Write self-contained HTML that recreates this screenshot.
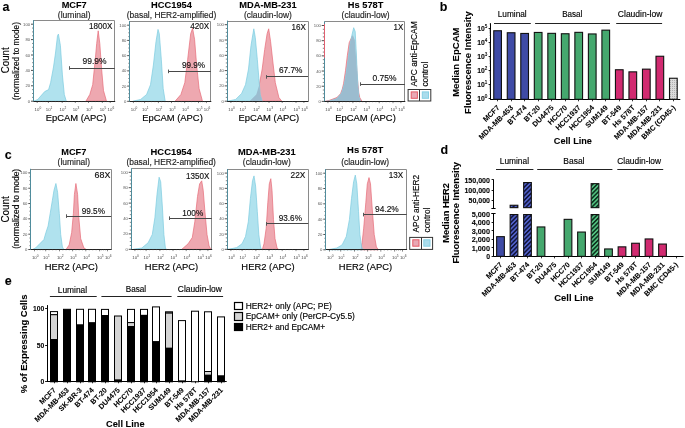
<!DOCTYPE html><html><head><meta charset="utf-8"><title>Figure</title><style>html,body{margin:0;padding:0;background:#fff;width:685px;height:428px;overflow:hidden}svg{display:block;will-change:transform}text{font-family:"Liberation Sans",sans-serif}</style></head><body>
<svg width="685" height="428" viewBox="0 0 685 428">
<defs><pattern id="hb" patternUnits="userSpaceOnUse" width="3.1" height="3.1" patternTransform="rotate(45)"><rect width="3.1" height="3.1" fill="#5060c8"/><rect width="1.5" height="3.1" fill="#10143c"/></pattern><pattern id="hg" patternUnits="userSpaceOnUse" width="3.1" height="3.1" patternTransform="rotate(45)"><rect width="3.1" height="3.1" fill="#52c080"/><rect width="1.5" height="3.1" fill="#0c301c"/></pattern><pattern id="dots" patternUnits="userSpaceOnUse" width="2" height="2"><rect width="2" height="2" fill="#dcdcdc"/><rect width="0.8" height="0.8" fill="#999"/></pattern></defs>
<text x="2.4" y="11.0" font-size="12.5" text-anchor="start" font-weight="bold" fill="#000" stroke="#000" stroke-width="0.08">a</text>
<text x="439.8" y="11.0" font-size="12.5" text-anchor="start" font-weight="bold" fill="#000" stroke="#000" stroke-width="0.08">b</text>
<text x="4.8" y="158.9" font-size="12.5" text-anchor="start" font-weight="bold" fill="#000" stroke="#000" stroke-width="0.08">c</text>
<text x="440.4" y="154.3" font-size="12.5" text-anchor="start" font-weight="bold" fill="#000" stroke="#000" stroke-width="0.08">d</text>
<text x="4.8" y="284.7" font-size="12.5" text-anchor="start" font-weight="bold" fill="#000" stroke="#000" stroke-width="0.08">e</text>
<line x1="31.00" y1="101.20" x2="33.50" y2="101.20" stroke="#222" stroke-width="0.8"/>
<text x="30.1" y="102.7" font-size="4.2" text-anchor="end" fill="#555">0</text>
<line x1="32.10" y1="97.35" x2="33.50" y2="97.35" stroke="#333" stroke-width="0.6"/>
<line x1="32.10" y1="93.50" x2="33.50" y2="93.50" stroke="#333" stroke-width="0.6"/>
<line x1="32.10" y1="89.65" x2="33.50" y2="89.65" stroke="#333" stroke-width="0.6"/>
<line x1="31.00" y1="85.80" x2="33.50" y2="85.80" stroke="#222" stroke-width="0.8"/>
<text x="30.1" y="87.3" font-size="4.2" text-anchor="end" fill="#555">20</text>
<line x1="32.10" y1="81.95" x2="33.50" y2="81.95" stroke="#333" stroke-width="0.6"/>
<line x1="32.10" y1="78.10" x2="33.50" y2="78.10" stroke="#333" stroke-width="0.6"/>
<line x1="32.10" y1="74.25" x2="33.50" y2="74.25" stroke="#333" stroke-width="0.6"/>
<line x1="31.00" y1="70.40" x2="33.50" y2="70.40" stroke="#222" stroke-width="0.8"/>
<text x="30.1" y="71.9" font-size="4.2" text-anchor="end" fill="#555">40</text>
<line x1="32.10" y1="66.55" x2="33.50" y2="66.55" stroke="#333" stroke-width="0.6"/>
<line x1="32.10" y1="62.70" x2="33.50" y2="62.70" stroke="#333" stroke-width="0.6"/>
<line x1="32.10" y1="58.85" x2="33.50" y2="58.85" stroke="#333" stroke-width="0.6"/>
<line x1="31.00" y1="55.00" x2="33.50" y2="55.00" stroke="#222" stroke-width="0.8"/>
<text x="30.1" y="56.5" font-size="4.2" text-anchor="end" fill="#555">60</text>
<line x1="32.10" y1="51.15" x2="33.50" y2="51.15" stroke="#333" stroke-width="0.6"/>
<line x1="32.10" y1="47.30" x2="33.50" y2="47.30" stroke="#333" stroke-width="0.6"/>
<line x1="32.10" y1="43.45" x2="33.50" y2="43.45" stroke="#333" stroke-width="0.6"/>
<line x1="31.00" y1="39.60" x2="33.50" y2="39.60" stroke="#222" stroke-width="0.8"/>
<text x="30.1" y="41.1" font-size="4.2" text-anchor="end" fill="#555">80</text>
<line x1="32.10" y1="35.75" x2="33.50" y2="35.75" stroke="#333" stroke-width="0.6"/>
<line x1="32.10" y1="31.90" x2="33.50" y2="31.90" stroke="#333" stroke-width="0.6"/>
<line x1="32.10" y1="28.05" x2="33.50" y2="28.05" stroke="#333" stroke-width="0.6"/>
<line x1="31.00" y1="24.20" x2="33.50" y2="24.20" stroke="#222" stroke-width="0.8"/>
<text x="30.1" y="25.7" font-size="4.2" text-anchor="end" fill="#555">100</text>
<clipPath id="c1"><polygon points="85.9,101.2 89.8,94.5 92.7,84.7 95.3,59.2 96.7,43.5 98.2,30.8 99.8,43.5 101.6,69.0 103.5,90.6 106.5,101.2"/></clipPath>
<polygon points="85.9,101.2 89.8,94.5 92.7,84.7 95.3,59.2 96.7,43.5 98.2,30.8 99.8,43.5 101.6,69.0 103.5,90.6 106.5,101.2" fill="#eea8b0" stroke="#e66c78" stroke-width="0.7" stroke-linejoin="round"/>
<polygon points="33.9,101.2 37.8,99.4 44.7,91.6 48.6,89.6 50.6,82.7 53.5,67.0 55.5,53.0 57.5,35.7 58.4,34.1 60.4,45.5 62.4,74.9 64.3,94.5 66.3,101.2" fill="#b0e2ee" stroke="#7ccbe0" stroke-width="0.7" stroke-linejoin="round"/>
<polygon points="33.9,101.2 37.8,99.4 44.7,91.6 48.6,89.6 50.6,82.7 53.5,67.0 55.5,53.0 57.5,35.7 58.4,34.1 60.4,45.5 62.4,74.9 64.3,94.5 66.3,101.2" fill="#9bbccf" stroke="none" stroke-width="0" stroke-linejoin="round" clip-path="url(#c1)"/>
<path d="M33.5,20.5 H114.5 V101.5" fill="none" stroke="#8a8a8a" stroke-width="1"/>
<line x1="33.30" y1="101.50" x2="115.20" y2="101.50" stroke="#222" stroke-width="1.0"/>
<line x1="33.50" y1="20.10" x2="33.50" y2="101.20" stroke="#4f8c9c" stroke-width="1.0"/>
<line x1="37.20" y1="101.20" x2="37.20" y2="103.00" stroke="#333" stroke-width="0.6"/>
<line x1="48.40" y1="101.20" x2="48.40" y2="103.00" stroke="#333" stroke-width="0.6"/>
<line x1="62.20" y1="101.20" x2="62.20" y2="103.00" stroke="#333" stroke-width="0.6"/>
<line x1="75.30" y1="101.20" x2="75.30" y2="103.00" stroke="#333" stroke-width="0.6"/>
<line x1="88.50" y1="101.20" x2="88.50" y2="103.00" stroke="#333" stroke-width="0.6"/>
<line x1="102.30" y1="101.20" x2="102.30" y2="103.00" stroke="#333" stroke-width="0.6"/>
<line x1="110.20" y1="101.20" x2="110.20" y2="103.00" stroke="#333" stroke-width="0.6"/>
<line x1="40.00" y1="101.20" x2="40.00" y2="102.20" stroke="#555" stroke-width="0.4"/>
<line x1="42.80" y1="101.20" x2="42.80" y2="102.20" stroke="#555" stroke-width="0.4"/>
<line x1="45.60" y1="101.20" x2="45.60" y2="102.20" stroke="#555" stroke-width="0.4"/>
<line x1="51.85" y1="101.20" x2="51.85" y2="102.20" stroke="#555" stroke-width="0.4"/>
<line x1="55.30" y1="101.20" x2="55.30" y2="102.20" stroke="#555" stroke-width="0.4"/>
<line x1="58.75" y1="101.20" x2="58.75" y2="102.20" stroke="#555" stroke-width="0.4"/>
<line x1="65.48" y1="101.20" x2="65.48" y2="102.20" stroke="#555" stroke-width="0.4"/>
<line x1="68.75" y1="101.20" x2="68.75" y2="102.20" stroke="#555" stroke-width="0.4"/>
<line x1="72.03" y1="101.20" x2="72.03" y2="102.20" stroke="#555" stroke-width="0.4"/>
<line x1="78.60" y1="101.20" x2="78.60" y2="102.20" stroke="#555" stroke-width="0.4"/>
<line x1="81.90" y1="101.20" x2="81.90" y2="102.20" stroke="#555" stroke-width="0.4"/>
<line x1="85.20" y1="101.20" x2="85.20" y2="102.20" stroke="#555" stroke-width="0.4"/>
<line x1="91.95" y1="101.20" x2="91.95" y2="102.20" stroke="#555" stroke-width="0.4"/>
<line x1="95.40" y1="101.20" x2="95.40" y2="102.20" stroke="#555" stroke-width="0.4"/>
<line x1="98.85" y1="101.20" x2="98.85" y2="102.20" stroke="#555" stroke-width="0.4"/>
<line x1="104.28" y1="101.20" x2="104.28" y2="102.20" stroke="#555" stroke-width="0.4"/>
<line x1="106.25" y1="101.20" x2="106.25" y2="102.20" stroke="#555" stroke-width="0.4"/>
<line x1="108.22" y1="101.20" x2="108.22" y2="102.20" stroke="#555" stroke-width="0.4"/>
<text x="37.9" y="110.6" font-size="4.3" text-anchor="middle" fill="#444">10<tspan dy="-1.8" font-size="3.2">0</tspan></text>
<text x="49.1" y="110.6" font-size="4.3" text-anchor="middle" fill="#444">10<tspan dy="-1.8" font-size="3.2">1</tspan></text>
<text x="62.9" y="110.6" font-size="4.3" text-anchor="middle" fill="#444">10<tspan dy="-1.8" font-size="3.2">2</tspan></text>
<text x="76.0" y="110.6" font-size="4.3" text-anchor="middle" fill="#444">10<tspan dy="-1.8" font-size="3.2">3</tspan></text>
<text x="89.2" y="110.6" font-size="4.3" text-anchor="middle" fill="#444">10<tspan dy="-1.8" font-size="3.2">4</tspan></text>
<text x="103.0" y="110.6" font-size="4.3" text-anchor="middle" fill="#444">10<tspan dy="-1.8" font-size="3.2">5</tspan></text>
<text x="110.9" y="110.6" font-size="4.3" text-anchor="middle" fill="#444">10<tspan dy="-1.8" font-size="3.2">6</tspan></text>
<line x1="69.20" y1="68.50" x2="114.80" y2="68.50" stroke="#484848" stroke-width="1.0"/>
<line x1="69.50" y1="66.20" x2="69.50" y2="69.80" stroke="#555" stroke-width="1.0"/>
<text x="82.5" y="63.6" font-size="8.7" text-anchor="start" fill="#111" stroke="#111" stroke-width="0.15" textLength="24.0" lengthAdjust="spacingAndGlyphs">99.9%</text>
<text x="89.0" y="29.3" font-size="8.5" text-anchor="start" fill="#111" stroke="#111" stroke-width="0.15" textLength="23.4" lengthAdjust="spacingAndGlyphs">1800X</text>
<line x1="127.20" y1="101.30" x2="129.70" y2="101.30" stroke="#222" stroke-width="0.8"/>
<text x="126.3" y="102.8" font-size="4.2" text-anchor="end" fill="#555">0</text>
<line x1="128.30" y1="97.50" x2="129.70" y2="97.50" stroke="#333" stroke-width="0.6"/>
<line x1="128.30" y1="93.69" x2="129.70" y2="93.69" stroke="#333" stroke-width="0.6"/>
<line x1="128.30" y1="89.88" x2="129.70" y2="89.88" stroke="#333" stroke-width="0.6"/>
<line x1="127.20" y1="86.08" x2="129.70" y2="86.08" stroke="#222" stroke-width="0.8"/>
<text x="126.3" y="87.6" font-size="4.2" text-anchor="end" fill="#555">20</text>
<line x1="128.30" y1="82.28" x2="129.70" y2="82.28" stroke="#333" stroke-width="0.6"/>
<line x1="128.30" y1="78.47" x2="129.70" y2="78.47" stroke="#333" stroke-width="0.6"/>
<line x1="128.30" y1="74.66" x2="129.70" y2="74.66" stroke="#333" stroke-width="0.6"/>
<line x1="127.20" y1="70.86" x2="129.70" y2="70.86" stroke="#222" stroke-width="0.8"/>
<text x="126.3" y="72.4" font-size="4.2" text-anchor="end" fill="#555">40</text>
<line x1="128.30" y1="67.06" x2="129.70" y2="67.06" stroke="#333" stroke-width="0.6"/>
<line x1="128.30" y1="63.25" x2="129.70" y2="63.25" stroke="#333" stroke-width="0.6"/>
<line x1="128.30" y1="59.45" x2="129.70" y2="59.45" stroke="#333" stroke-width="0.6"/>
<line x1="127.20" y1="55.64" x2="129.70" y2="55.64" stroke="#222" stroke-width="0.8"/>
<text x="126.3" y="57.1" font-size="4.2" text-anchor="end" fill="#555">60</text>
<line x1="128.30" y1="51.84" x2="129.70" y2="51.84" stroke="#333" stroke-width="0.6"/>
<line x1="128.30" y1="48.03" x2="129.70" y2="48.03" stroke="#333" stroke-width="0.6"/>
<line x1="128.30" y1="44.23" x2="129.70" y2="44.23" stroke="#333" stroke-width="0.6"/>
<line x1="127.20" y1="40.42" x2="129.70" y2="40.42" stroke="#222" stroke-width="0.8"/>
<text x="126.3" y="41.9" font-size="4.2" text-anchor="end" fill="#555">80</text>
<line x1="128.30" y1="36.62" x2="129.70" y2="36.62" stroke="#333" stroke-width="0.6"/>
<line x1="128.30" y1="32.81" x2="129.70" y2="32.81" stroke="#333" stroke-width="0.6"/>
<line x1="128.30" y1="29.01" x2="129.70" y2="29.01" stroke="#333" stroke-width="0.6"/>
<line x1="127.20" y1="25.20" x2="129.70" y2="25.20" stroke="#222" stroke-width="0.8"/>
<text x="126.3" y="26.7" font-size="4.2" text-anchor="end" fill="#555">100</text>
<clipPath id="c2"><polygon points="175.0,101.3 180.9,94.5 184.8,82.7 187.7,59.2 190.7,33.7 192.6,28.2 194.6,39.6 196.6,65.0 199.1,88.6 202.5,101.3"/></clipPath>
<polygon points="175.0,101.3 180.9,94.5 184.8,82.7 187.7,59.2 190.7,33.7 192.6,28.2 194.6,39.6 196.6,65.0 199.1,88.6 202.5,101.3" fill="#eea8b0" stroke="#e66c78" stroke-width="0.7" stroke-linejoin="round"/>
<polygon points="132.8,101.3 140.7,99.4 146.6,94.5 150.5,84.7 153.4,65.0 156.0,41.6 158.0,29.4 159.3,33.7 161.3,59.2 163.2,88.6 165.2,101.3" fill="#b0e2ee" stroke="#7ccbe0" stroke-width="0.7" stroke-linejoin="round"/>
<polygon points="132.8,101.3 140.7,99.4 146.6,94.5 150.5,84.7 153.4,65.0 156.0,41.6 158.0,29.4 159.3,33.7 161.3,59.2 163.2,88.6 165.2,101.3" fill="#9bbccf" stroke="none" stroke-width="0" stroke-linejoin="round" clip-path="url(#c2)"/>
<path d="M129.5,21.5 H210.5 V101.5" fill="none" stroke="#8a8a8a" stroke-width="1"/>
<line x1="129.50" y1="101.50" x2="211.30" y2="101.50" stroke="#222" stroke-width="1.0"/>
<line x1="129.50" y1="21.10" x2="129.50" y2="101.30" stroke="#4f8c9c" stroke-width="1.0"/>
<line x1="133.40" y1="101.30" x2="133.40" y2="103.10" stroke="#333" stroke-width="0.6"/>
<line x1="144.60" y1="101.30" x2="144.60" y2="103.10" stroke="#333" stroke-width="0.6"/>
<line x1="158.40" y1="101.30" x2="158.40" y2="103.10" stroke="#333" stroke-width="0.6"/>
<line x1="171.50" y1="101.30" x2="171.50" y2="103.10" stroke="#333" stroke-width="0.6"/>
<line x1="184.70" y1="101.30" x2="184.70" y2="103.10" stroke="#333" stroke-width="0.6"/>
<line x1="198.50" y1="101.30" x2="198.50" y2="103.10" stroke="#333" stroke-width="0.6"/>
<line x1="206.40" y1="101.30" x2="206.40" y2="103.10" stroke="#333" stroke-width="0.6"/>
<line x1="136.20" y1="101.30" x2="136.20" y2="102.30" stroke="#555" stroke-width="0.4"/>
<line x1="139.00" y1="101.30" x2="139.00" y2="102.30" stroke="#555" stroke-width="0.4"/>
<line x1="141.80" y1="101.30" x2="141.80" y2="102.30" stroke="#555" stroke-width="0.4"/>
<line x1="148.05" y1="101.30" x2="148.05" y2="102.30" stroke="#555" stroke-width="0.4"/>
<line x1="151.50" y1="101.30" x2="151.50" y2="102.30" stroke="#555" stroke-width="0.4"/>
<line x1="154.95" y1="101.30" x2="154.95" y2="102.30" stroke="#555" stroke-width="0.4"/>
<line x1="161.67" y1="101.30" x2="161.67" y2="102.30" stroke="#555" stroke-width="0.4"/>
<line x1="164.95" y1="101.30" x2="164.95" y2="102.30" stroke="#555" stroke-width="0.4"/>
<line x1="168.22" y1="101.30" x2="168.22" y2="102.30" stroke="#555" stroke-width="0.4"/>
<line x1="174.80" y1="101.30" x2="174.80" y2="102.30" stroke="#555" stroke-width="0.4"/>
<line x1="178.10" y1="101.30" x2="178.10" y2="102.30" stroke="#555" stroke-width="0.4"/>
<line x1="181.40" y1="101.30" x2="181.40" y2="102.30" stroke="#555" stroke-width="0.4"/>
<line x1="188.15" y1="101.30" x2="188.15" y2="102.30" stroke="#555" stroke-width="0.4"/>
<line x1="191.60" y1="101.30" x2="191.60" y2="102.30" stroke="#555" stroke-width="0.4"/>
<line x1="195.05" y1="101.30" x2="195.05" y2="102.30" stroke="#555" stroke-width="0.4"/>
<line x1="200.47" y1="101.30" x2="200.47" y2="102.30" stroke="#555" stroke-width="0.4"/>
<line x1="202.45" y1="101.30" x2="202.45" y2="102.30" stroke="#555" stroke-width="0.4"/>
<line x1="204.43" y1="101.30" x2="204.43" y2="102.30" stroke="#555" stroke-width="0.4"/>
<text x="134.1" y="110.7" font-size="4.3" text-anchor="middle" fill="#444">10<tspan dy="-1.8" font-size="3.2">0</tspan></text>
<text x="145.3" y="110.7" font-size="4.3" text-anchor="middle" fill="#444">10<tspan dy="-1.8" font-size="3.2">1</tspan></text>
<text x="159.1" y="110.7" font-size="4.3" text-anchor="middle" fill="#444">10<tspan dy="-1.8" font-size="3.2">2</tspan></text>
<text x="172.2" y="110.7" font-size="4.3" text-anchor="middle" fill="#444">10<tspan dy="-1.8" font-size="3.2">3</tspan></text>
<text x="185.4" y="110.7" font-size="4.3" text-anchor="middle" fill="#444">10<tspan dy="-1.8" font-size="3.2">4</tspan></text>
<text x="199.2" y="110.7" font-size="4.3" text-anchor="middle" fill="#444">10<tspan dy="-1.8" font-size="3.2">5</tspan></text>
<text x="207.1" y="110.7" font-size="4.3" text-anchor="middle" fill="#444">10<tspan dy="-1.8" font-size="3.2">6</tspan></text>
<line x1="168.50" y1="71.50" x2="210.90" y2="71.50" stroke="#484848" stroke-width="1.0"/>
<line x1="168.50" y1="69.60" x2="168.50" y2="73.20" stroke="#555" stroke-width="1.0"/>
<text x="181.9" y="67.6" font-size="8.7" text-anchor="start" fill="#111" stroke="#111" stroke-width="0.15" textLength="23.1" lengthAdjust="spacingAndGlyphs">99.9%</text>
<text x="190.3" y="29.4" font-size="8.5" text-anchor="start" fill="#111" stroke="#111" stroke-width="0.15" textLength="19.0" lengthAdjust="spacingAndGlyphs">420X</text>
<line x1="224.70" y1="101.20" x2="227.20" y2="101.20" stroke="#222" stroke-width="0.8"/>
<text x="223.8" y="102.7" font-size="4.2" text-anchor="end" fill="#555">0</text>
<line x1="225.80" y1="97.38" x2="227.20" y2="97.38" stroke="#333" stroke-width="0.6"/>
<line x1="225.80" y1="93.55" x2="227.20" y2="93.55" stroke="#333" stroke-width="0.6"/>
<line x1="225.80" y1="89.73" x2="227.20" y2="89.73" stroke="#333" stroke-width="0.6"/>
<line x1="224.70" y1="85.90" x2="227.20" y2="85.90" stroke="#222" stroke-width="0.8"/>
<text x="223.8" y="87.4" font-size="4.2" text-anchor="end" fill="#555">20</text>
<line x1="225.80" y1="82.08" x2="227.20" y2="82.08" stroke="#333" stroke-width="0.6"/>
<line x1="225.80" y1="78.25" x2="227.20" y2="78.25" stroke="#333" stroke-width="0.6"/>
<line x1="225.80" y1="74.42" x2="227.20" y2="74.42" stroke="#333" stroke-width="0.6"/>
<line x1="224.70" y1="70.60" x2="227.20" y2="70.60" stroke="#222" stroke-width="0.8"/>
<text x="223.8" y="72.1" font-size="4.2" text-anchor="end" fill="#555">40</text>
<line x1="225.80" y1="66.78" x2="227.20" y2="66.78" stroke="#333" stroke-width="0.6"/>
<line x1="225.80" y1="62.95" x2="227.20" y2="62.95" stroke="#333" stroke-width="0.6"/>
<line x1="225.80" y1="59.12" x2="227.20" y2="59.12" stroke="#333" stroke-width="0.6"/>
<line x1="224.70" y1="55.30" x2="227.20" y2="55.30" stroke="#222" stroke-width="0.8"/>
<text x="223.8" y="56.8" font-size="4.2" text-anchor="end" fill="#555">60</text>
<line x1="225.80" y1="51.48" x2="227.20" y2="51.48" stroke="#333" stroke-width="0.6"/>
<line x1="225.80" y1="47.65" x2="227.20" y2="47.65" stroke="#333" stroke-width="0.6"/>
<line x1="225.80" y1="43.83" x2="227.20" y2="43.83" stroke="#333" stroke-width="0.6"/>
<line x1="224.70" y1="40.00" x2="227.20" y2="40.00" stroke="#222" stroke-width="0.8"/>
<text x="223.8" y="41.5" font-size="4.2" text-anchor="end" fill="#555">80</text>
<line x1="225.80" y1="36.17" x2="227.20" y2="36.17" stroke="#333" stroke-width="0.6"/>
<line x1="225.80" y1="32.35" x2="227.20" y2="32.35" stroke="#333" stroke-width="0.6"/>
<line x1="225.80" y1="28.53" x2="227.20" y2="28.53" stroke="#333" stroke-width="0.6"/>
<line x1="224.70" y1="24.70" x2="227.20" y2="24.70" stroke="#222" stroke-width="0.8"/>
<text x="223.8" y="26.2" font-size="4.2" text-anchor="end" fill="#555">100</text>
<clipPath id="c3"><polygon points="249.5,101.2 256.3,94.5 259.3,84.7 262.2,69.0 264.7,49.4 267.1,33.7 268.7,28.8 270.6,41.6 273.0,63.1 275.3,82.7 278.9,97.5 281.8,101.2"/></clipPath>
<polygon points="249.5,101.2 256.3,94.5 259.3,84.7 262.2,69.0 264.7,49.4 267.1,33.7 268.7,28.8 270.6,41.6 273.0,63.1 275.3,82.7 278.9,97.5 281.8,101.2" fill="#eea8b0" stroke="#e66c78" stroke-width="0.7" stroke-linejoin="round"/>
<polygon points="227.9,101.2 235.7,99.4 241.6,93.5 245.5,84.7 248.5,69.0 251.0,45.5 253.8,28.8 255.3,37.6 257.3,59.2 258.9,78.8 260.2,94.5 262.2,101.2" fill="#b0e2ee" stroke="#7ccbe0" stroke-width="0.7" stroke-linejoin="round"/>
<polygon points="227.9,101.2 235.7,99.4 241.6,93.5 245.5,84.7 248.5,69.0 251.0,45.5 253.8,28.8 255.3,37.6 257.3,59.2 258.9,78.8 260.2,94.5 262.2,101.2" fill="#9bbccf" stroke="none" stroke-width="0" stroke-linejoin="round" clip-path="url(#c3)"/>
<path d="M227.5,21.5 H308.5 V101.5" fill="none" stroke="#8a8a8a" stroke-width="1"/>
<line x1="227.00" y1="101.50" x2="308.40" y2="101.50" stroke="#222" stroke-width="1.0"/>
<line x1="227.50" y1="20.60" x2="227.50" y2="101.20" stroke="#4f8c9c" stroke-width="1.0"/>
<line x1="230.90" y1="101.20" x2="230.90" y2="103.00" stroke="#333" stroke-width="0.6"/>
<line x1="242.10" y1="101.20" x2="242.10" y2="103.00" stroke="#333" stroke-width="0.6"/>
<line x1="255.90" y1="101.20" x2="255.90" y2="103.00" stroke="#333" stroke-width="0.6"/>
<line x1="269.00" y1="101.20" x2="269.00" y2="103.00" stroke="#333" stroke-width="0.6"/>
<line x1="282.20" y1="101.20" x2="282.20" y2="103.00" stroke="#333" stroke-width="0.6"/>
<line x1="296.00" y1="101.20" x2="296.00" y2="103.00" stroke="#333" stroke-width="0.6"/>
<line x1="303.90" y1="101.20" x2="303.90" y2="103.00" stroke="#333" stroke-width="0.6"/>
<line x1="233.70" y1="101.20" x2="233.70" y2="102.20" stroke="#555" stroke-width="0.4"/>
<line x1="236.50" y1="101.20" x2="236.50" y2="102.20" stroke="#555" stroke-width="0.4"/>
<line x1="239.30" y1="101.20" x2="239.30" y2="102.20" stroke="#555" stroke-width="0.4"/>
<line x1="245.55" y1="101.20" x2="245.55" y2="102.20" stroke="#555" stroke-width="0.4"/>
<line x1="249.00" y1="101.20" x2="249.00" y2="102.20" stroke="#555" stroke-width="0.4"/>
<line x1="252.45" y1="101.20" x2="252.45" y2="102.20" stroke="#555" stroke-width="0.4"/>
<line x1="259.17" y1="101.20" x2="259.17" y2="102.20" stroke="#555" stroke-width="0.4"/>
<line x1="262.45" y1="101.20" x2="262.45" y2="102.20" stroke="#555" stroke-width="0.4"/>
<line x1="265.72" y1="101.20" x2="265.72" y2="102.20" stroke="#555" stroke-width="0.4"/>
<line x1="272.30" y1="101.20" x2="272.30" y2="102.20" stroke="#555" stroke-width="0.4"/>
<line x1="275.60" y1="101.20" x2="275.60" y2="102.20" stroke="#555" stroke-width="0.4"/>
<line x1="278.90" y1="101.20" x2="278.90" y2="102.20" stroke="#555" stroke-width="0.4"/>
<line x1="285.65" y1="101.20" x2="285.65" y2="102.20" stroke="#555" stroke-width="0.4"/>
<line x1="289.10" y1="101.20" x2="289.10" y2="102.20" stroke="#555" stroke-width="0.4"/>
<line x1="292.55" y1="101.20" x2="292.55" y2="102.20" stroke="#555" stroke-width="0.4"/>
<line x1="297.98" y1="101.20" x2="297.98" y2="102.20" stroke="#555" stroke-width="0.4"/>
<line x1="299.95" y1="101.20" x2="299.95" y2="102.20" stroke="#555" stroke-width="0.4"/>
<line x1="301.93" y1="101.20" x2="301.93" y2="102.20" stroke="#555" stroke-width="0.4"/>
<text x="231.6" y="110.6" font-size="4.3" text-anchor="middle" fill="#444">10<tspan dy="-1.8" font-size="3.2">0</tspan></text>
<text x="242.8" y="110.6" font-size="4.3" text-anchor="middle" fill="#444">10<tspan dy="-1.8" font-size="3.2">1</tspan></text>
<text x="256.6" y="110.6" font-size="4.3" text-anchor="middle" fill="#444">10<tspan dy="-1.8" font-size="3.2">2</tspan></text>
<text x="269.7" y="110.6" font-size="4.3" text-anchor="middle" fill="#444">10<tspan dy="-1.8" font-size="3.2">3</tspan></text>
<text x="282.9" y="110.6" font-size="4.3" text-anchor="middle" fill="#444">10<tspan dy="-1.8" font-size="3.2">4</tspan></text>
<text x="296.7" y="110.6" font-size="4.3" text-anchor="middle" fill="#444">10<tspan dy="-1.8" font-size="3.2">5</tspan></text>
<text x="304.6" y="110.6" font-size="4.3" text-anchor="middle" fill="#444">10<tspan dy="-1.8" font-size="3.2">6</tspan></text>
<line x1="266.10" y1="76.50" x2="308.00" y2="76.50" stroke="#484848" stroke-width="1.0"/>
<line x1="266.50" y1="75.10" x2="266.50" y2="78.70" stroke="#555" stroke-width="1.0"/>
<text x="278.9" y="73.3" font-size="8.7" text-anchor="start" fill="#111" stroke="#111" stroke-width="0.15" textLength="23.5" lengthAdjust="spacingAndGlyphs">67.7%</text>
<text x="291.6" y="29.8" font-size="8.5" text-anchor="start" fill="#111" stroke="#111" stroke-width="0.15" textLength="14.3" lengthAdjust="spacingAndGlyphs">16X</text>
<line x1="321.70" y1="101.40" x2="324.20" y2="101.40" stroke="#222" stroke-width="0.8"/>
<text x="320.8" y="102.9" font-size="4.2" text-anchor="end" fill="#555">0</text>
<line x1="322.80" y1="97.61" x2="324.20" y2="97.61" stroke="#333" stroke-width="0.6"/>
<line x1="322.80" y1="93.81" x2="324.20" y2="93.81" stroke="#333" stroke-width="0.6"/>
<line x1="322.80" y1="90.02" x2="324.20" y2="90.02" stroke="#333" stroke-width="0.6"/>
<line x1="321.70" y1="86.22" x2="324.20" y2="86.22" stroke="#222" stroke-width="0.8"/>
<text x="320.8" y="87.7" font-size="4.2" text-anchor="end" fill="#555">20</text>
<line x1="322.80" y1="82.43" x2="324.20" y2="82.43" stroke="#333" stroke-width="0.6"/>
<line x1="322.80" y1="78.63" x2="324.20" y2="78.63" stroke="#333" stroke-width="0.6"/>
<line x1="322.80" y1="74.84" x2="324.20" y2="74.84" stroke="#333" stroke-width="0.6"/>
<line x1="321.70" y1="71.04" x2="324.20" y2="71.04" stroke="#222" stroke-width="0.8"/>
<text x="320.8" y="72.5" font-size="4.2" text-anchor="end" fill="#555">40</text>
<line x1="322.80" y1="67.25" x2="324.20" y2="67.25" stroke="#333" stroke-width="0.6"/>
<line x1="322.80" y1="63.45" x2="324.20" y2="63.45" stroke="#333" stroke-width="0.6"/>
<line x1="322.80" y1="59.66" x2="324.20" y2="59.66" stroke="#333" stroke-width="0.6"/>
<line x1="321.70" y1="55.86" x2="324.20" y2="55.86" stroke="#222" stroke-width="0.8"/>
<text x="320.8" y="57.4" font-size="4.2" text-anchor="end" fill="#555">60</text>
<line x1="322.80" y1="52.07" x2="324.20" y2="52.07" stroke="#333" stroke-width="0.6"/>
<line x1="322.80" y1="48.27" x2="324.20" y2="48.27" stroke="#333" stroke-width="0.6"/>
<line x1="322.80" y1="44.48" x2="324.20" y2="44.48" stroke="#333" stroke-width="0.6"/>
<line x1="321.70" y1="40.68" x2="324.20" y2="40.68" stroke="#222" stroke-width="0.8"/>
<text x="320.8" y="42.2" font-size="4.2" text-anchor="end" fill="#555">80</text>
<line x1="322.80" y1="36.89" x2="324.20" y2="36.89" stroke="#333" stroke-width="0.6"/>
<line x1="322.80" y1="33.09" x2="324.20" y2="33.09" stroke="#333" stroke-width="0.6"/>
<line x1="322.80" y1="29.30" x2="324.20" y2="29.30" stroke="#333" stroke-width="0.6"/>
<line x1="321.70" y1="25.50" x2="324.20" y2="25.50" stroke="#222" stroke-width="0.8"/>
<text x="320.8" y="27.0" font-size="4.2" text-anchor="end" fill="#555">100</text>
<clipPath id="c4"><polygon points="325.0,101.4 329.5,100.3 336.9,97.5 340.5,93.8 342.3,89.0 343.6,83.5 345.5,70.6 347.3,55.7 349.2,42.7 352.8,35.0 354.8,40.0 356.2,60.0 357.5,80.0 358.8,93.0 359.8,97.7 362.1,101.4"/></clipPath>
<polygon points="325.0,101.4 329.5,100.3 336.9,97.5 340.5,93.8 342.3,89.0 343.6,83.5 345.5,70.6 347.3,55.7 349.2,42.7 352.8,35.0 354.8,40.0 356.2,60.0 357.5,80.0 358.8,93.0 359.8,97.7 362.1,101.4" fill="#eea8b0" stroke="#e66c78" stroke-width="0.7" stroke-linejoin="round"/>
<polygon points="325.8,101.4 329.5,100.9 336.9,98.6 341.6,93.0 344.4,83.7 346.3,72.5 348.1,59.4 350.0,44.5 351.9,35.2 353.7,27.7 355.2,31.5 356.1,48.3 357.1,70.6 358.0,87.4 358.9,96.8 360.2,100.5 361.0,101.4" fill="#b0e2ee" stroke="#7ccbe0" stroke-width="0.7" stroke-linejoin="round"/>
<polygon points="325.8,101.4 329.5,100.9 336.9,98.6 341.6,93.0 344.4,83.7 346.3,72.5 348.1,59.4 350.0,44.5 351.9,35.2 353.7,27.7 355.2,31.5 356.1,48.3 357.1,70.6 358.0,87.4 358.9,96.8 360.2,100.5 361.0,101.4" fill="#9bbccf" stroke="none" stroke-width="0" stroke-linejoin="round" clip-path="url(#c4)"/>
<path d="M324.5,21.5 H404.5 V101.5" fill="none" stroke="#8a8a8a" stroke-width="1"/>
<line x1="324.00" y1="101.50" x2="405.30" y2="101.50" stroke="#222" stroke-width="1.0"/>
<line x1="324.50" y1="21.40" x2="324.50" y2="101.40" stroke="#4f8c9c" stroke-width="1.0"/>
<line x1="324.50" y1="24.00" x2="324.50" y2="57.70" stroke="#e06070" stroke-width="1.0"/>
<line x1="327.90" y1="101.40" x2="327.90" y2="103.20" stroke="#333" stroke-width="0.6"/>
<line x1="339.10" y1="101.40" x2="339.10" y2="103.20" stroke="#333" stroke-width="0.6"/>
<line x1="352.90" y1="101.40" x2="352.90" y2="103.20" stroke="#333" stroke-width="0.6"/>
<line x1="366.00" y1="101.40" x2="366.00" y2="103.20" stroke="#333" stroke-width="0.6"/>
<line x1="379.20" y1="101.40" x2="379.20" y2="103.20" stroke="#333" stroke-width="0.6"/>
<line x1="393.00" y1="101.40" x2="393.00" y2="103.20" stroke="#333" stroke-width="0.6"/>
<line x1="400.90" y1="101.40" x2="400.90" y2="103.20" stroke="#333" stroke-width="0.6"/>
<line x1="330.70" y1="101.40" x2="330.70" y2="102.40" stroke="#555" stroke-width="0.4"/>
<line x1="333.50" y1="101.40" x2="333.50" y2="102.40" stroke="#555" stroke-width="0.4"/>
<line x1="336.30" y1="101.40" x2="336.30" y2="102.40" stroke="#555" stroke-width="0.4"/>
<line x1="342.55" y1="101.40" x2="342.55" y2="102.40" stroke="#555" stroke-width="0.4"/>
<line x1="346.00" y1="101.40" x2="346.00" y2="102.40" stroke="#555" stroke-width="0.4"/>
<line x1="349.45" y1="101.40" x2="349.45" y2="102.40" stroke="#555" stroke-width="0.4"/>
<line x1="356.17" y1="101.40" x2="356.17" y2="102.40" stroke="#555" stroke-width="0.4"/>
<line x1="359.45" y1="101.40" x2="359.45" y2="102.40" stroke="#555" stroke-width="0.4"/>
<line x1="362.72" y1="101.40" x2="362.72" y2="102.40" stroke="#555" stroke-width="0.4"/>
<line x1="369.30" y1="101.40" x2="369.30" y2="102.40" stroke="#555" stroke-width="0.4"/>
<line x1="372.60" y1="101.40" x2="372.60" y2="102.40" stroke="#555" stroke-width="0.4"/>
<line x1="375.90" y1="101.40" x2="375.90" y2="102.40" stroke="#555" stroke-width="0.4"/>
<line x1="382.65" y1="101.40" x2="382.65" y2="102.40" stroke="#555" stroke-width="0.4"/>
<line x1="386.10" y1="101.40" x2="386.10" y2="102.40" stroke="#555" stroke-width="0.4"/>
<line x1="389.55" y1="101.40" x2="389.55" y2="102.40" stroke="#555" stroke-width="0.4"/>
<line x1="394.98" y1="101.40" x2="394.98" y2="102.40" stroke="#555" stroke-width="0.4"/>
<line x1="396.95" y1="101.40" x2="396.95" y2="102.40" stroke="#555" stroke-width="0.4"/>
<line x1="398.93" y1="101.40" x2="398.93" y2="102.40" stroke="#555" stroke-width="0.4"/>
<text x="328.6" y="110.8" font-size="4.3" text-anchor="middle" fill="#444">10<tspan dy="-1.8" font-size="3.2">0</tspan></text>
<text x="339.8" y="110.8" font-size="4.3" text-anchor="middle" fill="#444">10<tspan dy="-1.8" font-size="3.2">1</tspan></text>
<text x="353.6" y="110.8" font-size="4.3" text-anchor="middle" fill="#444">10<tspan dy="-1.8" font-size="3.2">2</tspan></text>
<text x="366.7" y="110.8" font-size="4.3" text-anchor="middle" fill="#444">10<tspan dy="-1.8" font-size="3.2">3</tspan></text>
<text x="379.9" y="110.8" font-size="4.3" text-anchor="middle" fill="#444">10<tspan dy="-1.8" font-size="3.2">4</tspan></text>
<text x="393.7" y="110.8" font-size="4.3" text-anchor="middle" fill="#444">10<tspan dy="-1.8" font-size="3.2">5</tspan></text>
<text x="401.6" y="110.8" font-size="4.3" text-anchor="middle" fill="#444">10<tspan dy="-1.8" font-size="3.2">6</tspan></text>
<line x1="360.20" y1="84.50" x2="404.90" y2="84.50" stroke="#484848" stroke-width="1.0"/>
<line x1="360.50" y1="82.30" x2="360.50" y2="85.90" stroke="#555" stroke-width="1.0"/>
<text x="372.5" y="80.8" font-size="8.7" text-anchor="start" fill="#111" stroke="#111" stroke-width="0.15" textLength="23.9" lengthAdjust="spacingAndGlyphs">0.75%</text>
<text x="393.5" y="29.8" font-size="8.5" text-anchor="start" fill="#111" stroke="#111" stroke-width="0.15" textLength="9.8" lengthAdjust="spacingAndGlyphs">1X</text>
<text x="74.2" y="8.3" font-size="9.7" text-anchor="middle" font-weight="bold" fill="#000" stroke="#000" stroke-width="0.08" textLength="25.1" lengthAdjust="spacingAndGlyphs">MCF7</text>
<text x="74.2" y="18.1" font-size="8.4" text-anchor="middle" fill="#222" stroke="#222" stroke-width="0.15" textLength="32.7" lengthAdjust="spacingAndGlyphs">(luminal)</text>
<text x="171.5" y="8.3" font-size="9.7" text-anchor="middle" font-weight="bold" fill="#000" stroke="#000" stroke-width="0.08" textLength="40.8" lengthAdjust="spacingAndGlyphs">HCC1954</text>
<text x="171.5" y="18.1" font-size="8.4" text-anchor="middle" fill="#222" stroke="#222" stroke-width="0.15" textLength="89.5" lengthAdjust="spacingAndGlyphs">(basal, HER2-amplified)</text>
<text x="267.9" y="8.3" font-size="9.7" text-anchor="middle" font-weight="bold" fill="#000" stroke="#000" stroke-width="0.08" textLength="57.3" lengthAdjust="spacingAndGlyphs">MDA-MB-231</text>
<text x="267.9" y="18.1" font-size="8.4" text-anchor="middle" fill="#222" stroke="#222" stroke-width="0.15" textLength="48.0" lengthAdjust="spacingAndGlyphs">(claudin-low)</text>
<text x="365.6" y="8.3" font-size="9.7" text-anchor="middle" font-weight="bold" fill="#000" stroke="#000" stroke-width="0.08" textLength="35.5" lengthAdjust="spacingAndGlyphs">Hs 578T</text>
<text x="365.6" y="18.1" font-size="8.4" text-anchor="middle" fill="#222" stroke="#222" stroke-width="0.15" textLength="48.0" lengthAdjust="spacingAndGlyphs">(claudin-low)</text>
<text x="76.0" y="121.1" font-size="9.4" text-anchor="middle" fill="#000" stroke="#000" stroke-width="0.15" textLength="60.6" lengthAdjust="spacingAndGlyphs">EpCAM (APC)</text>
<text x="172.5" y="121.1" font-size="9.4" text-anchor="middle" fill="#000" stroke="#000" stroke-width="0.15" textLength="60.6" lengthAdjust="spacingAndGlyphs">EpCAM (APC)</text>
<text x="268.8" y="121.1" font-size="9.4" text-anchor="middle" fill="#000" stroke="#000" stroke-width="0.15" textLength="60.6" lengthAdjust="spacingAndGlyphs">EpCAM (APC)</text>
<text x="365.5" y="121.1" font-size="9.4" text-anchor="middle" fill="#000" stroke="#000" stroke-width="0.15" textLength="60.6" lengthAdjust="spacingAndGlyphs">EpCAM (APC)</text>
<text transform="translate(8.9,60.3) rotate(-90)" font-size="10" text-anchor="middle" fill="#000" stroke="#000" stroke-width="0.15" textLength="25.8" lengthAdjust="spacingAndGlyphs">Count</text>
<text transform="translate(18.6,61.0) rotate(-90)" font-size="8.3" text-anchor="middle" fill="#000" stroke="#000" stroke-width="0.15" textLength="77.8" lengthAdjust="spacingAndGlyphs">(normalized to mode)</text>
<text transform="translate(417.3,86.6) rotate(-90)" font-size="8.3" text-anchor="start" fill="#000" stroke="#000" stroke-width="0.15" textLength="65.3" lengthAdjust="spacingAndGlyphs">APC anti-EpCAM</text>
<text transform="translate(428.3,86.6) rotate(-90)" font-size="8.3" text-anchor="start" fill="#000" stroke="#000" stroke-width="0.15" textLength="24.9" lengthAdjust="spacingAndGlyphs">control</text>
<rect x="408.10" y="89.50" width="22.70" height="11.50" fill="#fff" stroke="#333" stroke-width="1.0"/>
<line x1="419.50" y1="89.50" x2="419.50" y2="101.00" stroke="#333" stroke-width="1.0"/>
<rect x="411.20" y="91.90" width="6.20" height="6.40" fill="#e8a8b4" stroke="#e45a66" stroke-width="1.0"/>
<rect x="422.30" y="91.90" width="6.20" height="6.40" fill="#aadcec" stroke="#86d0e4" stroke-width="1.0"/>
<line x1="28.30" y1="249.50" x2="30.80" y2="249.50" stroke="#222" stroke-width="0.8"/>
<text x="27.4" y="251.0" font-size="4.2" text-anchor="end" fill="#555">0</text>
<line x1="29.40" y1="245.67" x2="30.80" y2="245.67" stroke="#333" stroke-width="0.6"/>
<line x1="29.40" y1="241.84" x2="30.80" y2="241.84" stroke="#333" stroke-width="0.6"/>
<line x1="29.40" y1="238.01" x2="30.80" y2="238.01" stroke="#333" stroke-width="0.6"/>
<line x1="28.30" y1="234.18" x2="30.80" y2="234.18" stroke="#222" stroke-width="0.8"/>
<text x="27.4" y="235.7" font-size="4.2" text-anchor="end" fill="#555">20</text>
<line x1="29.40" y1="230.35" x2="30.80" y2="230.35" stroke="#333" stroke-width="0.6"/>
<line x1="29.40" y1="226.52" x2="30.80" y2="226.52" stroke="#333" stroke-width="0.6"/>
<line x1="29.40" y1="222.69" x2="30.80" y2="222.69" stroke="#333" stroke-width="0.6"/>
<line x1="28.30" y1="218.86" x2="30.80" y2="218.86" stroke="#222" stroke-width="0.8"/>
<text x="27.4" y="220.4" font-size="4.2" text-anchor="end" fill="#555">40</text>
<line x1="29.40" y1="215.03" x2="30.80" y2="215.03" stroke="#333" stroke-width="0.6"/>
<line x1="29.40" y1="211.20" x2="30.80" y2="211.20" stroke="#333" stroke-width="0.6"/>
<line x1="29.40" y1="207.37" x2="30.80" y2="207.37" stroke="#333" stroke-width="0.6"/>
<line x1="28.30" y1="203.54" x2="30.80" y2="203.54" stroke="#222" stroke-width="0.8"/>
<text x="27.4" y="205.0" font-size="4.2" text-anchor="end" fill="#555">60</text>
<line x1="29.40" y1="199.71" x2="30.80" y2="199.71" stroke="#333" stroke-width="0.6"/>
<line x1="29.40" y1="195.88" x2="30.80" y2="195.88" stroke="#333" stroke-width="0.6"/>
<line x1="29.40" y1="192.05" x2="30.80" y2="192.05" stroke="#333" stroke-width="0.6"/>
<line x1="28.30" y1="188.22" x2="30.80" y2="188.22" stroke="#222" stroke-width="0.8"/>
<text x="27.4" y="189.7" font-size="4.2" text-anchor="end" fill="#555">80</text>
<line x1="29.40" y1="184.39" x2="30.80" y2="184.39" stroke="#333" stroke-width="0.6"/>
<line x1="29.40" y1="180.56" x2="30.80" y2="180.56" stroke="#333" stroke-width="0.6"/>
<line x1="29.40" y1="176.73" x2="30.80" y2="176.73" stroke="#333" stroke-width="0.6"/>
<line x1="28.30" y1="172.90" x2="30.80" y2="172.90" stroke="#222" stroke-width="0.8"/>
<text x="27.4" y="174.4" font-size="4.2" text-anchor="end" fill="#555">100</text>
<clipPath id="c5"><polygon points="66.0,249.5 69.2,244.9 71.7,232.3 73.4,213.4 74.4,194.4 75.9,183.5 77.6,194.4 78.8,217.6 80.7,238.6 83.9,248.0 86.4,249.5"/></clipPath>
<polygon points="66.0,249.5 69.2,244.9 71.7,232.3 73.4,213.4 74.4,194.4 75.9,183.5 77.6,194.4 78.8,217.6 80.7,238.6 83.9,248.0 86.4,249.5" fill="#eea8b0" stroke="#e66c78" stroke-width="0.7" stroke-linejoin="round"/>
<polygon points="32.4,249.5 35.5,248.0 39.7,243.8 43.9,239.6 46.0,232.3 48.1,226.0 50.2,213.4 52.3,200.7 54.0,190.2 55.9,183.5 57.6,192.3 59.3,213.4 60.7,234.4 62.4,247.0 63.9,249.5" fill="#b0e2ee" stroke="#7ccbe0" stroke-width="0.7" stroke-linejoin="round"/>
<polygon points="32.4,249.5 35.5,248.0 39.7,243.8 43.9,239.6 46.0,232.3 48.1,226.0 50.2,213.4 52.3,200.7 54.0,190.2 55.9,183.5 57.6,192.3 59.3,213.4 60.7,234.4 62.4,247.0 63.9,249.5" fill="#9bbccf" stroke="none" stroke-width="0" stroke-linejoin="round" clip-path="url(#c5)"/>
<path d="M30.5,169.5 H111.5 V249.5" fill="none" stroke="#8a8a8a" stroke-width="1"/>
<line x1="30.60" y1="249.50" x2="111.60" y2="249.50" stroke="#222" stroke-width="1.0"/>
<line x1="30.50" y1="168.80" x2="30.50" y2="249.50" stroke="#4f8c9c" stroke-width="1.0"/>
<line x1="34.50" y1="249.50" x2="34.50" y2="251.30" stroke="#333" stroke-width="0.6"/>
<line x1="45.70" y1="249.50" x2="45.70" y2="251.30" stroke="#333" stroke-width="0.6"/>
<line x1="59.50" y1="249.50" x2="59.50" y2="251.30" stroke="#333" stroke-width="0.6"/>
<line x1="72.60" y1="249.50" x2="72.60" y2="251.30" stroke="#333" stroke-width="0.6"/>
<line x1="85.80" y1="249.50" x2="85.80" y2="251.30" stroke="#333" stroke-width="0.6"/>
<line x1="99.60" y1="249.50" x2="99.60" y2="251.30" stroke="#333" stroke-width="0.6"/>
<line x1="107.50" y1="249.50" x2="107.50" y2="251.30" stroke="#333" stroke-width="0.6"/>
<line x1="37.30" y1="249.50" x2="37.30" y2="250.50" stroke="#555" stroke-width="0.4"/>
<line x1="40.10" y1="249.50" x2="40.10" y2="250.50" stroke="#555" stroke-width="0.4"/>
<line x1="42.90" y1="249.50" x2="42.90" y2="250.50" stroke="#555" stroke-width="0.4"/>
<line x1="49.15" y1="249.50" x2="49.15" y2="250.50" stroke="#555" stroke-width="0.4"/>
<line x1="52.60" y1="249.50" x2="52.60" y2="250.50" stroke="#555" stroke-width="0.4"/>
<line x1="56.05" y1="249.50" x2="56.05" y2="250.50" stroke="#555" stroke-width="0.4"/>
<line x1="62.77" y1="249.50" x2="62.77" y2="250.50" stroke="#555" stroke-width="0.4"/>
<line x1="66.05" y1="249.50" x2="66.05" y2="250.50" stroke="#555" stroke-width="0.4"/>
<line x1="69.33" y1="249.50" x2="69.33" y2="250.50" stroke="#555" stroke-width="0.4"/>
<line x1="75.90" y1="249.50" x2="75.90" y2="250.50" stroke="#555" stroke-width="0.4"/>
<line x1="79.20" y1="249.50" x2="79.20" y2="250.50" stroke="#555" stroke-width="0.4"/>
<line x1="82.50" y1="249.50" x2="82.50" y2="250.50" stroke="#555" stroke-width="0.4"/>
<line x1="89.25" y1="249.50" x2="89.25" y2="250.50" stroke="#555" stroke-width="0.4"/>
<line x1="92.70" y1="249.50" x2="92.70" y2="250.50" stroke="#555" stroke-width="0.4"/>
<line x1="96.15" y1="249.50" x2="96.15" y2="250.50" stroke="#555" stroke-width="0.4"/>
<line x1="101.57" y1="249.50" x2="101.57" y2="250.50" stroke="#555" stroke-width="0.4"/>
<line x1="103.55" y1="249.50" x2="103.55" y2="250.50" stroke="#555" stroke-width="0.4"/>
<line x1="105.53" y1="249.50" x2="105.53" y2="250.50" stroke="#555" stroke-width="0.4"/>
<text x="35.2" y="258.9" font-size="4.3" text-anchor="middle" fill="#444">10<tspan dy="-1.8" font-size="3.2">0</tspan></text>
<text x="46.4" y="258.9" font-size="4.3" text-anchor="middle" fill="#444">10<tspan dy="-1.8" font-size="3.2">1</tspan></text>
<text x="60.2" y="258.9" font-size="4.3" text-anchor="middle" fill="#444">10<tspan dy="-1.8" font-size="3.2">2</tspan></text>
<text x="73.3" y="258.9" font-size="4.3" text-anchor="middle" fill="#444">10<tspan dy="-1.8" font-size="3.2">3</tspan></text>
<text x="86.5" y="258.9" font-size="4.3" text-anchor="middle" fill="#444">10<tspan dy="-1.8" font-size="3.2">4</tspan></text>
<text x="100.3" y="258.9" font-size="4.3" text-anchor="middle" fill="#444">10<tspan dy="-1.8" font-size="3.2">5</tspan></text>
<text x="108.2" y="258.9" font-size="4.3" text-anchor="middle" fill="#444">10<tspan dy="-1.8" font-size="3.2">6</tspan></text>
<line x1="66.60" y1="216.50" x2="111.20" y2="216.50" stroke="#484848" stroke-width="1.0"/>
<line x1="66.50" y1="214.30" x2="66.50" y2="217.90" stroke="#555" stroke-width="1.0"/>
<text x="81.8" y="213.8" font-size="8.7" text-anchor="start" fill="#111" stroke="#111" stroke-width="0.15" textLength="23.1" lengthAdjust="spacingAndGlyphs">99.5%</text>
<text x="94.6" y="177.7" font-size="8.5" text-anchor="start" fill="#111" stroke="#111" stroke-width="0.15" textLength="15.8" lengthAdjust="spacingAndGlyphs">68X</text>
<line x1="128.70" y1="249.30" x2="131.20" y2="249.30" stroke="#222" stroke-width="0.8"/>
<text x="127.8" y="250.8" font-size="4.2" text-anchor="end" fill="#555">0</text>
<line x1="129.80" y1="245.45" x2="131.20" y2="245.45" stroke="#333" stroke-width="0.6"/>
<line x1="129.80" y1="241.60" x2="131.20" y2="241.60" stroke="#333" stroke-width="0.6"/>
<line x1="129.80" y1="237.75" x2="131.20" y2="237.75" stroke="#333" stroke-width="0.6"/>
<line x1="128.70" y1="233.90" x2="131.20" y2="233.90" stroke="#222" stroke-width="0.8"/>
<text x="127.8" y="235.4" font-size="4.2" text-anchor="end" fill="#555">20</text>
<line x1="129.80" y1="230.05" x2="131.20" y2="230.05" stroke="#333" stroke-width="0.6"/>
<line x1="129.80" y1="226.20" x2="131.20" y2="226.20" stroke="#333" stroke-width="0.6"/>
<line x1="129.80" y1="222.35" x2="131.20" y2="222.35" stroke="#333" stroke-width="0.6"/>
<line x1="128.70" y1="218.50" x2="131.20" y2="218.50" stroke="#222" stroke-width="0.8"/>
<text x="127.8" y="220.0" font-size="4.2" text-anchor="end" fill="#555">40</text>
<line x1="129.80" y1="214.65" x2="131.20" y2="214.65" stroke="#333" stroke-width="0.6"/>
<line x1="129.80" y1="210.80" x2="131.20" y2="210.80" stroke="#333" stroke-width="0.6"/>
<line x1="129.80" y1="206.95" x2="131.20" y2="206.95" stroke="#333" stroke-width="0.6"/>
<line x1="128.70" y1="203.10" x2="131.20" y2="203.10" stroke="#222" stroke-width="0.8"/>
<text x="127.8" y="204.6" font-size="4.2" text-anchor="end" fill="#555">60</text>
<line x1="129.80" y1="199.25" x2="131.20" y2="199.25" stroke="#333" stroke-width="0.6"/>
<line x1="129.80" y1="195.40" x2="131.20" y2="195.40" stroke="#333" stroke-width="0.6"/>
<line x1="129.80" y1="191.55" x2="131.20" y2="191.55" stroke="#333" stroke-width="0.6"/>
<line x1="128.70" y1="187.70" x2="131.20" y2="187.70" stroke="#222" stroke-width="0.8"/>
<text x="127.8" y="189.2" font-size="4.2" text-anchor="end" fill="#555">80</text>
<line x1="129.80" y1="183.85" x2="131.20" y2="183.85" stroke="#333" stroke-width="0.6"/>
<line x1="129.80" y1="180.00" x2="131.20" y2="180.00" stroke="#333" stroke-width="0.6"/>
<line x1="129.80" y1="176.15" x2="131.20" y2="176.15" stroke="#333" stroke-width="0.6"/>
<line x1="128.70" y1="172.30" x2="131.20" y2="172.30" stroke="#222" stroke-width="0.8"/>
<text x="127.8" y="173.8" font-size="4.2" text-anchor="end" fill="#555">100</text>
<clipPath id="c6"><polygon points="181.8,249.3 188.1,243.8 192.3,237.5 194.8,221.8 197.5,196.5 199.6,183.9 201.7,180.8 203.2,190.2 204.9,211.3 207.0,234.4 209.1,246.0 210.8,249.3"/></clipPath>
<polygon points="181.8,249.3 188.1,243.8 192.3,237.5 194.8,221.8 197.5,196.5 199.6,183.9 201.7,180.8 203.2,190.2 204.9,211.3 207.0,234.4 209.1,246.0 210.8,249.3" fill="#eea8b0" stroke="#e66c78" stroke-width="0.7" stroke-linejoin="round"/>
<polygon points="133.4,249.3 141.8,248.0 148.1,242.8 152.3,234.4 154.9,217.6 157.0,194.4 159.1,177.2 160.7,181.8 162.4,207.0 163.9,234.4 165.4,248.0 166.4,249.3" fill="#b0e2ee" stroke="#7ccbe0" stroke-width="0.7" stroke-linejoin="round"/>
<polygon points="133.4,249.3 141.8,248.0 148.1,242.8 152.3,234.4 154.9,217.6 157.0,194.4 159.1,177.2 160.7,181.8 162.4,207.0 163.9,234.4 165.4,248.0 166.4,249.3" fill="#9bbccf" stroke="none" stroke-width="0" stroke-linejoin="round" clip-path="url(#c6)"/>
<path d="M131.5,168.5 H211.5 V249.5" fill="none" stroke="#8a8a8a" stroke-width="1"/>
<line x1="131.00" y1="249.50" x2="212.20" y2="249.50" stroke="#222" stroke-width="1.0"/>
<line x1="131.50" y1="168.20" x2="131.50" y2="249.30" stroke="#4f8c9c" stroke-width="1.0"/>
<line x1="134.90" y1="249.30" x2="134.90" y2="251.10" stroke="#333" stroke-width="0.6"/>
<line x1="146.10" y1="249.30" x2="146.10" y2="251.10" stroke="#333" stroke-width="0.6"/>
<line x1="159.90" y1="249.30" x2="159.90" y2="251.10" stroke="#333" stroke-width="0.6"/>
<line x1="173.00" y1="249.30" x2="173.00" y2="251.10" stroke="#333" stroke-width="0.6"/>
<line x1="186.20" y1="249.30" x2="186.20" y2="251.10" stroke="#333" stroke-width="0.6"/>
<line x1="200.00" y1="249.30" x2="200.00" y2="251.10" stroke="#333" stroke-width="0.6"/>
<line x1="207.90" y1="249.30" x2="207.90" y2="251.10" stroke="#333" stroke-width="0.6"/>
<line x1="137.70" y1="249.30" x2="137.70" y2="250.30" stroke="#555" stroke-width="0.4"/>
<line x1="140.50" y1="249.30" x2="140.50" y2="250.30" stroke="#555" stroke-width="0.4"/>
<line x1="143.30" y1="249.30" x2="143.30" y2="250.30" stroke="#555" stroke-width="0.4"/>
<line x1="149.55" y1="249.30" x2="149.55" y2="250.30" stroke="#555" stroke-width="0.4"/>
<line x1="153.00" y1="249.30" x2="153.00" y2="250.30" stroke="#555" stroke-width="0.4"/>
<line x1="156.45" y1="249.30" x2="156.45" y2="250.30" stroke="#555" stroke-width="0.4"/>
<line x1="163.17" y1="249.30" x2="163.17" y2="250.30" stroke="#555" stroke-width="0.4"/>
<line x1="166.45" y1="249.30" x2="166.45" y2="250.30" stroke="#555" stroke-width="0.4"/>
<line x1="169.72" y1="249.30" x2="169.72" y2="250.30" stroke="#555" stroke-width="0.4"/>
<line x1="176.30" y1="249.30" x2="176.30" y2="250.30" stroke="#555" stroke-width="0.4"/>
<line x1="179.60" y1="249.30" x2="179.60" y2="250.30" stroke="#555" stroke-width="0.4"/>
<line x1="182.90" y1="249.30" x2="182.90" y2="250.30" stroke="#555" stroke-width="0.4"/>
<line x1="189.65" y1="249.30" x2="189.65" y2="250.30" stroke="#555" stroke-width="0.4"/>
<line x1="193.10" y1="249.30" x2="193.10" y2="250.30" stroke="#555" stroke-width="0.4"/>
<line x1="196.55" y1="249.30" x2="196.55" y2="250.30" stroke="#555" stroke-width="0.4"/>
<line x1="201.97" y1="249.30" x2="201.97" y2="250.30" stroke="#555" stroke-width="0.4"/>
<line x1="203.95" y1="249.30" x2="203.95" y2="250.30" stroke="#555" stroke-width="0.4"/>
<line x1="205.93" y1="249.30" x2="205.93" y2="250.30" stroke="#555" stroke-width="0.4"/>
<text x="135.6" y="258.7" font-size="4.3" text-anchor="middle" fill="#444">10<tspan dy="-1.8" font-size="3.2">0</tspan></text>
<text x="146.8" y="258.7" font-size="4.3" text-anchor="middle" fill="#444">10<tspan dy="-1.8" font-size="3.2">1</tspan></text>
<text x="160.6" y="258.7" font-size="4.3" text-anchor="middle" fill="#444">10<tspan dy="-1.8" font-size="3.2">2</tspan></text>
<text x="173.7" y="258.7" font-size="4.3" text-anchor="middle" fill="#444">10<tspan dy="-1.8" font-size="3.2">3</tspan></text>
<text x="186.9" y="258.7" font-size="4.3" text-anchor="middle" fill="#444">10<tspan dy="-1.8" font-size="3.2">4</tspan></text>
<text x="200.7" y="258.7" font-size="4.3" text-anchor="middle" fill="#444">10<tspan dy="-1.8" font-size="3.2">5</tspan></text>
<text x="208.6" y="258.7" font-size="4.3" text-anchor="middle" fill="#444">10<tspan dy="-1.8" font-size="3.2">6</tspan></text>
<line x1="169.60" y1="218.50" x2="211.80" y2="218.50" stroke="#484848" stroke-width="1.0"/>
<line x1="169.50" y1="216.40" x2="169.50" y2="220.00" stroke="#555" stroke-width="1.0"/>
<text x="182.2" y="215.9" font-size="8.7" text-anchor="start" fill="#111" stroke="#111" stroke-width="0.15" textLength="21.0" lengthAdjust="spacingAndGlyphs">100%</text>
<text x="186.1" y="178.7" font-size="8.5" text-anchor="start" fill="#111" stroke="#111" stroke-width="0.15" textLength="23.4" lengthAdjust="spacingAndGlyphs">1350X</text>
<line x1="224.70" y1="249.30" x2="227.20" y2="249.30" stroke="#222" stroke-width="0.8"/>
<text x="223.8" y="250.8" font-size="4.2" text-anchor="end" fill="#555">0</text>
<line x1="225.80" y1="245.49" x2="227.20" y2="245.49" stroke="#333" stroke-width="0.6"/>
<line x1="225.80" y1="241.68" x2="227.20" y2="241.68" stroke="#333" stroke-width="0.6"/>
<line x1="225.80" y1="237.87" x2="227.20" y2="237.87" stroke="#333" stroke-width="0.6"/>
<line x1="224.70" y1="234.06" x2="227.20" y2="234.06" stroke="#222" stroke-width="0.8"/>
<text x="223.8" y="235.6" font-size="4.2" text-anchor="end" fill="#555">20</text>
<line x1="225.80" y1="230.25" x2="227.20" y2="230.25" stroke="#333" stroke-width="0.6"/>
<line x1="225.80" y1="226.44" x2="227.20" y2="226.44" stroke="#333" stroke-width="0.6"/>
<line x1="225.80" y1="222.63" x2="227.20" y2="222.63" stroke="#333" stroke-width="0.6"/>
<line x1="224.70" y1="218.82" x2="227.20" y2="218.82" stroke="#222" stroke-width="0.8"/>
<text x="223.8" y="220.3" font-size="4.2" text-anchor="end" fill="#555">40</text>
<line x1="225.80" y1="215.01" x2="227.20" y2="215.01" stroke="#333" stroke-width="0.6"/>
<line x1="225.80" y1="211.20" x2="227.20" y2="211.20" stroke="#333" stroke-width="0.6"/>
<line x1="225.80" y1="207.39" x2="227.20" y2="207.39" stroke="#333" stroke-width="0.6"/>
<line x1="224.70" y1="203.58" x2="227.20" y2="203.58" stroke="#222" stroke-width="0.8"/>
<text x="223.8" y="205.1" font-size="4.2" text-anchor="end" fill="#555">60</text>
<line x1="225.80" y1="199.77" x2="227.20" y2="199.77" stroke="#333" stroke-width="0.6"/>
<line x1="225.80" y1="195.96" x2="227.20" y2="195.96" stroke="#333" stroke-width="0.6"/>
<line x1="225.80" y1="192.15" x2="227.20" y2="192.15" stroke="#333" stroke-width="0.6"/>
<line x1="224.70" y1="188.34" x2="227.20" y2="188.34" stroke="#222" stroke-width="0.8"/>
<text x="223.8" y="189.8" font-size="4.2" text-anchor="end" fill="#555">80</text>
<line x1="225.80" y1="184.53" x2="227.20" y2="184.53" stroke="#333" stroke-width="0.6"/>
<line x1="225.80" y1="180.72" x2="227.20" y2="180.72" stroke="#333" stroke-width="0.6"/>
<line x1="225.80" y1="176.91" x2="227.20" y2="176.91" stroke="#333" stroke-width="0.6"/>
<line x1="224.70" y1="173.10" x2="227.20" y2="173.10" stroke="#222" stroke-width="0.8"/>
<text x="223.8" y="174.6" font-size="4.2" text-anchor="end" fill="#555">100</text>
<clipPath id="c7"><polygon points="262.4,249.3 264.0,243.8 266.2,228.1 267.8,202.8 269.3,183.9 270.8,178.7 272.0,190.2 273.5,219.7 275.0,238.6 277.1,248.0 278.4,249.3"/></clipPath>
<polygon points="262.4,249.3 264.0,243.8 266.2,228.1 267.8,202.8 269.3,183.9 270.8,178.7 272.0,190.2 273.5,219.7 275.0,238.6 277.1,248.0 278.4,249.3" fill="#eea8b0" stroke="#e66c78" stroke-width="0.7" stroke-linejoin="round"/>
<polygon points="228.3,249.3 236.7,247.6 242.0,243.8 245.5,236.5 248.3,221.8 250.4,198.6 252.5,180.8 254.0,175.9 255.6,186.0 257.3,211.3 258.8,234.4 260.5,247.0 261.5,249.3" fill="#b0e2ee" stroke="#7ccbe0" stroke-width="0.7" stroke-linejoin="round"/>
<polygon points="228.3,249.3 236.7,247.6 242.0,243.8 245.5,236.5 248.3,221.8 250.4,198.6 252.5,180.8 254.0,175.9 255.6,186.0 257.3,211.3 258.8,234.4 260.5,247.0 261.5,249.3" fill="#9bbccf" stroke="none" stroke-width="0" stroke-linejoin="round" clip-path="url(#c7)"/>
<path d="M227.5,169.5 H308.5 V249.5" fill="none" stroke="#8a8a8a" stroke-width="1"/>
<line x1="227.00" y1="249.50" x2="308.70" y2="249.50" stroke="#222" stroke-width="1.0"/>
<line x1="227.50" y1="169.00" x2="227.50" y2="249.30" stroke="#4f8c9c" stroke-width="1.0"/>
<line x1="230.90" y1="249.30" x2="230.90" y2="251.10" stroke="#333" stroke-width="0.6"/>
<line x1="242.10" y1="249.30" x2="242.10" y2="251.10" stroke="#333" stroke-width="0.6"/>
<line x1="255.90" y1="249.30" x2="255.90" y2="251.10" stroke="#333" stroke-width="0.6"/>
<line x1="269.00" y1="249.30" x2="269.00" y2="251.10" stroke="#333" stroke-width="0.6"/>
<line x1="282.20" y1="249.30" x2="282.20" y2="251.10" stroke="#333" stroke-width="0.6"/>
<line x1="296.00" y1="249.30" x2="296.00" y2="251.10" stroke="#333" stroke-width="0.6"/>
<line x1="303.90" y1="249.30" x2="303.90" y2="251.10" stroke="#333" stroke-width="0.6"/>
<line x1="233.70" y1="249.30" x2="233.70" y2="250.30" stroke="#555" stroke-width="0.4"/>
<line x1="236.50" y1="249.30" x2="236.50" y2="250.30" stroke="#555" stroke-width="0.4"/>
<line x1="239.30" y1="249.30" x2="239.30" y2="250.30" stroke="#555" stroke-width="0.4"/>
<line x1="245.55" y1="249.30" x2="245.55" y2="250.30" stroke="#555" stroke-width="0.4"/>
<line x1="249.00" y1="249.30" x2="249.00" y2="250.30" stroke="#555" stroke-width="0.4"/>
<line x1="252.45" y1="249.30" x2="252.45" y2="250.30" stroke="#555" stroke-width="0.4"/>
<line x1="259.17" y1="249.30" x2="259.17" y2="250.30" stroke="#555" stroke-width="0.4"/>
<line x1="262.45" y1="249.30" x2="262.45" y2="250.30" stroke="#555" stroke-width="0.4"/>
<line x1="265.72" y1="249.30" x2="265.72" y2="250.30" stroke="#555" stroke-width="0.4"/>
<line x1="272.30" y1="249.30" x2="272.30" y2="250.30" stroke="#555" stroke-width="0.4"/>
<line x1="275.60" y1="249.30" x2="275.60" y2="250.30" stroke="#555" stroke-width="0.4"/>
<line x1="278.90" y1="249.30" x2="278.90" y2="250.30" stroke="#555" stroke-width="0.4"/>
<line x1="285.65" y1="249.30" x2="285.65" y2="250.30" stroke="#555" stroke-width="0.4"/>
<line x1="289.10" y1="249.30" x2="289.10" y2="250.30" stroke="#555" stroke-width="0.4"/>
<line x1="292.55" y1="249.30" x2="292.55" y2="250.30" stroke="#555" stroke-width="0.4"/>
<line x1="297.98" y1="249.30" x2="297.98" y2="250.30" stroke="#555" stroke-width="0.4"/>
<line x1="299.95" y1="249.30" x2="299.95" y2="250.30" stroke="#555" stroke-width="0.4"/>
<line x1="301.93" y1="249.30" x2="301.93" y2="250.30" stroke="#555" stroke-width="0.4"/>
<text x="231.6" y="258.7" font-size="4.3" text-anchor="middle" fill="#444">10<tspan dy="-1.8" font-size="3.2">0</tspan></text>
<text x="242.8" y="258.7" font-size="4.3" text-anchor="middle" fill="#444">10<tspan dy="-1.8" font-size="3.2">1</tspan></text>
<text x="256.6" y="258.7" font-size="4.3" text-anchor="middle" fill="#444">10<tspan dy="-1.8" font-size="3.2">2</tspan></text>
<text x="269.7" y="258.7" font-size="4.3" text-anchor="middle" fill="#444">10<tspan dy="-1.8" font-size="3.2">3</tspan></text>
<text x="282.9" y="258.7" font-size="4.3" text-anchor="middle" fill="#444">10<tspan dy="-1.8" font-size="3.2">4</tspan></text>
<text x="296.7" y="258.7" font-size="4.3" text-anchor="middle" fill="#444">10<tspan dy="-1.8" font-size="3.2">5</tspan></text>
<text x="304.6" y="258.7" font-size="4.3" text-anchor="middle" fill="#444">10<tspan dy="-1.8" font-size="3.2">6</tspan></text>
<line x1="266.20" y1="223.50" x2="308.30" y2="223.50" stroke="#484848" stroke-width="1.0"/>
<line x1="266.50" y1="222.10" x2="266.50" y2="225.70" stroke="#555" stroke-width="1.0"/>
<text x="278.8" y="220.7" font-size="8.7" text-anchor="start" fill="#111" stroke="#111" stroke-width="0.15" textLength="23.1" lengthAdjust="spacingAndGlyphs">93.6%</text>
<text x="290.5" y="178.4" font-size="8.5" text-anchor="start" fill="#111" stroke="#111" stroke-width="0.15" textLength="14.8" lengthAdjust="spacingAndGlyphs">22X</text>
<line x1="323.30" y1="249.80" x2="325.80" y2="249.80" stroke="#222" stroke-width="0.8"/>
<text x="322.4" y="251.3" font-size="4.2" text-anchor="end" fill="#555">0</text>
<line x1="324.40" y1="245.97" x2="325.80" y2="245.97" stroke="#333" stroke-width="0.6"/>
<line x1="324.40" y1="242.14" x2="325.80" y2="242.14" stroke="#333" stroke-width="0.6"/>
<line x1="324.40" y1="238.31" x2="325.80" y2="238.31" stroke="#333" stroke-width="0.6"/>
<line x1="323.30" y1="234.48" x2="325.80" y2="234.48" stroke="#222" stroke-width="0.8"/>
<text x="322.4" y="236.0" font-size="4.2" text-anchor="end" fill="#555">20</text>
<line x1="324.40" y1="230.65" x2="325.80" y2="230.65" stroke="#333" stroke-width="0.6"/>
<line x1="324.40" y1="226.82" x2="325.80" y2="226.82" stroke="#333" stroke-width="0.6"/>
<line x1="324.40" y1="222.99" x2="325.80" y2="222.99" stroke="#333" stroke-width="0.6"/>
<line x1="323.30" y1="219.16" x2="325.80" y2="219.16" stroke="#222" stroke-width="0.8"/>
<text x="322.4" y="220.7" font-size="4.2" text-anchor="end" fill="#555">40</text>
<line x1="324.40" y1="215.33" x2="325.80" y2="215.33" stroke="#333" stroke-width="0.6"/>
<line x1="324.40" y1="211.50" x2="325.80" y2="211.50" stroke="#333" stroke-width="0.6"/>
<line x1="324.40" y1="207.67" x2="325.80" y2="207.67" stroke="#333" stroke-width="0.6"/>
<line x1="323.30" y1="203.84" x2="325.80" y2="203.84" stroke="#222" stroke-width="0.8"/>
<text x="322.4" y="205.3" font-size="4.2" text-anchor="end" fill="#555">60</text>
<line x1="324.40" y1="200.01" x2="325.80" y2="200.01" stroke="#333" stroke-width="0.6"/>
<line x1="324.40" y1="196.18" x2="325.80" y2="196.18" stroke="#333" stroke-width="0.6"/>
<line x1="324.40" y1="192.35" x2="325.80" y2="192.35" stroke="#333" stroke-width="0.6"/>
<line x1="323.30" y1="188.52" x2="325.80" y2="188.52" stroke="#222" stroke-width="0.8"/>
<text x="322.4" y="190.0" font-size="4.2" text-anchor="end" fill="#555">80</text>
<line x1="324.40" y1="184.69" x2="325.80" y2="184.69" stroke="#333" stroke-width="0.6"/>
<line x1="324.40" y1="180.86" x2="325.80" y2="180.86" stroke="#333" stroke-width="0.6"/>
<line x1="324.40" y1="177.03" x2="325.80" y2="177.03" stroke="#333" stroke-width="0.6"/>
<line x1="323.30" y1="173.20" x2="325.80" y2="173.20" stroke="#222" stroke-width="0.8"/>
<text x="322.4" y="174.7" font-size="4.2" text-anchor="end" fill="#555">100</text>
<clipPath id="c8"><polygon points="360.4,249.8 362.1,242.8 363.7,228.1 365.8,202.8 367.3,183.9 369.0,177.6 370.5,183.9 372.1,207.0 374.2,234.4 376.4,247.0 378.5,249.8"/></clipPath>
<polygon points="360.4,249.8 362.1,242.8 363.7,228.1 365.8,202.8 367.3,183.9 369.0,177.6 370.5,183.9 372.1,207.0 374.2,234.4 376.4,247.0 378.5,249.8" fill="#eea8b0" stroke="#e66c78" stroke-width="0.7" stroke-linejoin="round"/>
<polygon points="327.4,249.8 336.8,248.0 342.1,244.9 346.3,236.5 349.4,219.7 351.5,198.6 353.6,181.8 355.3,175.1 356.8,183.9 358.5,211.3 359.9,234.4 361.6,247.0 363.1,249.8" fill="#b0e2ee" stroke="#7ccbe0" stroke-width="0.7" stroke-linejoin="round"/>
<polygon points="327.4,249.8 336.8,248.0 342.1,244.9 346.3,236.5 349.4,219.7 351.5,198.6 353.6,181.8 355.3,175.1 356.8,183.9 358.5,211.3 359.9,234.4 361.6,247.0 363.1,249.8" fill="#9bbccf" stroke="none" stroke-width="0" stroke-linejoin="round" clip-path="url(#c8)"/>
<path d="M325.5,169.5 H406.5 V249.5" fill="none" stroke="#8a8a8a" stroke-width="1"/>
<line x1="325.60" y1="249.50" x2="407.10" y2="249.50" stroke="#222" stroke-width="1.0"/>
<line x1="325.50" y1="169.10" x2="325.50" y2="249.80" stroke="#4f8c9c" stroke-width="1.0"/>
<line x1="329.50" y1="249.80" x2="329.50" y2="251.60" stroke="#333" stroke-width="0.6"/>
<line x1="340.70" y1="249.80" x2="340.70" y2="251.60" stroke="#333" stroke-width="0.6"/>
<line x1="354.50" y1="249.80" x2="354.50" y2="251.60" stroke="#333" stroke-width="0.6"/>
<line x1="367.60" y1="249.80" x2="367.60" y2="251.60" stroke="#333" stroke-width="0.6"/>
<line x1="380.80" y1="249.80" x2="380.80" y2="251.60" stroke="#333" stroke-width="0.6"/>
<line x1="394.60" y1="249.80" x2="394.60" y2="251.60" stroke="#333" stroke-width="0.6"/>
<line x1="402.50" y1="249.80" x2="402.50" y2="251.60" stroke="#333" stroke-width="0.6"/>
<line x1="332.30" y1="249.80" x2="332.30" y2="250.80" stroke="#555" stroke-width="0.4"/>
<line x1="335.10" y1="249.80" x2="335.10" y2="250.80" stroke="#555" stroke-width="0.4"/>
<line x1="337.90" y1="249.80" x2="337.90" y2="250.80" stroke="#555" stroke-width="0.4"/>
<line x1="344.15" y1="249.80" x2="344.15" y2="250.80" stroke="#555" stroke-width="0.4"/>
<line x1="347.60" y1="249.80" x2="347.60" y2="250.80" stroke="#555" stroke-width="0.4"/>
<line x1="351.05" y1="249.80" x2="351.05" y2="250.80" stroke="#555" stroke-width="0.4"/>
<line x1="357.77" y1="249.80" x2="357.77" y2="250.80" stroke="#555" stroke-width="0.4"/>
<line x1="361.05" y1="249.80" x2="361.05" y2="250.80" stroke="#555" stroke-width="0.4"/>
<line x1="364.32" y1="249.80" x2="364.32" y2="250.80" stroke="#555" stroke-width="0.4"/>
<line x1="370.90" y1="249.80" x2="370.90" y2="250.80" stroke="#555" stroke-width="0.4"/>
<line x1="374.20" y1="249.80" x2="374.20" y2="250.80" stroke="#555" stroke-width="0.4"/>
<line x1="377.50" y1="249.80" x2="377.50" y2="250.80" stroke="#555" stroke-width="0.4"/>
<line x1="384.25" y1="249.80" x2="384.25" y2="250.80" stroke="#555" stroke-width="0.4"/>
<line x1="387.70" y1="249.80" x2="387.70" y2="250.80" stroke="#555" stroke-width="0.4"/>
<line x1="391.15" y1="249.80" x2="391.15" y2="250.80" stroke="#555" stroke-width="0.4"/>
<line x1="396.58" y1="249.80" x2="396.58" y2="250.80" stroke="#555" stroke-width="0.4"/>
<line x1="398.55" y1="249.80" x2="398.55" y2="250.80" stroke="#555" stroke-width="0.4"/>
<line x1="400.53" y1="249.80" x2="400.53" y2="250.80" stroke="#555" stroke-width="0.4"/>
<text x="330.2" y="259.2" font-size="4.3" text-anchor="middle" fill="#444">10<tspan dy="-1.8" font-size="3.2">0</tspan></text>
<text x="341.4" y="259.2" font-size="4.3" text-anchor="middle" fill="#444">10<tspan dy="-1.8" font-size="3.2">1</tspan></text>
<text x="355.2" y="259.2" font-size="4.3" text-anchor="middle" fill="#444">10<tspan dy="-1.8" font-size="3.2">2</tspan></text>
<text x="368.3" y="259.2" font-size="4.3" text-anchor="middle" fill="#444">10<tspan dy="-1.8" font-size="3.2">3</tspan></text>
<text x="381.5" y="259.2" font-size="4.3" text-anchor="middle" fill="#444">10<tspan dy="-1.8" font-size="3.2">4</tspan></text>
<text x="395.3" y="259.2" font-size="4.3" text-anchor="middle" fill="#444">10<tspan dy="-1.8" font-size="3.2">5</tspan></text>
<text x="403.2" y="259.2" font-size="4.3" text-anchor="middle" fill="#444">10<tspan dy="-1.8" font-size="3.2">6</tspan></text>
<line x1="363.50" y1="214.50" x2="406.70" y2="214.50" stroke="#484848" stroke-width="1.0"/>
<line x1="363.50" y1="212.80" x2="363.50" y2="216.40" stroke="#555" stroke-width="1.0"/>
<text x="375.1" y="211.7" font-size="8.7" text-anchor="start" fill="#111" stroke="#111" stroke-width="0.15" textLength="23.7" lengthAdjust="spacingAndGlyphs">94.2%</text>
<text x="388.7" y="178.3" font-size="8.5" text-anchor="start" fill="#111" stroke="#111" stroke-width="0.15" textLength="14.5" lengthAdjust="spacingAndGlyphs">13X</text>
<text x="73.8" y="155.0" font-size="9.7" text-anchor="middle" font-weight="bold" fill="#000" stroke="#000" stroke-width="0.08" textLength="25.1" lengthAdjust="spacingAndGlyphs">MCF7</text>
<text x="73.8" y="165.0" font-size="8.4" text-anchor="middle" fill="#222" stroke="#222" stroke-width="0.15" textLength="32.4" lengthAdjust="spacingAndGlyphs">(luminal)</text>
<text x="171.2" y="154.9" font-size="9.7" text-anchor="middle" font-weight="bold" fill="#000" stroke="#000" stroke-width="0.08" textLength="41.2" lengthAdjust="spacingAndGlyphs">HCC1954</text>
<text x="171.2" y="165.0" font-size="8.4" text-anchor="middle" fill="#222" stroke="#222" stroke-width="0.15" textLength="89.5" lengthAdjust="spacingAndGlyphs">(basal, HER2-amplified)</text>
<text x="266.8" y="154.6" font-size="9.7" text-anchor="middle" font-weight="bold" fill="#000" stroke="#000" stroke-width="0.08" textLength="57.7" lengthAdjust="spacingAndGlyphs">MDA-MB-231</text>
<text x="266.8" y="165.0" font-size="8.4" text-anchor="middle" fill="#222" stroke="#222" stroke-width="0.15" textLength="47.9" lengthAdjust="spacingAndGlyphs">(claudin-low)</text>
<text x="365.2" y="153.3" font-size="9.7" text-anchor="middle" font-weight="bold" fill="#000" stroke="#000" stroke-width="0.08" textLength="36.3" lengthAdjust="spacingAndGlyphs">Hs 578T</text>
<text x="365.2" y="164.5" font-size="8.4" text-anchor="middle" fill="#222" stroke="#222" stroke-width="0.15" textLength="48.0" lengthAdjust="spacingAndGlyphs">(claudin-low)</text>
<text x="71.3" y="269.9" font-size="9.4" text-anchor="middle" fill="#000" stroke="#000" stroke-width="0.15" textLength="53.3" lengthAdjust="spacingAndGlyphs">HER2 (APC)</text>
<text x="171.5" y="269.9" font-size="9.4" text-anchor="middle" fill="#000" stroke="#000" stroke-width="0.15" textLength="53.3" lengthAdjust="spacingAndGlyphs">HER2 (APC)</text>
<text x="268.0" y="269.9" font-size="9.4" text-anchor="middle" fill="#000" stroke="#000" stroke-width="0.15" textLength="53.3" lengthAdjust="spacingAndGlyphs">HER2 (APC)</text>
<text x="365.5" y="269.9" font-size="9.4" text-anchor="middle" fill="#000" stroke="#000" stroke-width="0.15" textLength="53.3" lengthAdjust="spacingAndGlyphs">HER2 (APC)</text>
<text transform="translate(8.9,209.4) rotate(-90)" font-size="10" text-anchor="middle" fill="#000" stroke="#000" stroke-width="0.15" textLength="26.4" lengthAdjust="spacingAndGlyphs">Count</text>
<text transform="translate(18.6,208.8) rotate(-90)" font-size="8.3" text-anchor="middle" fill="#000" stroke="#000" stroke-width="0.15" textLength="79.9" lengthAdjust="spacingAndGlyphs">(normalized to mode)</text>
<text transform="translate(418.6,232.4) rotate(-90)" font-size="8.4" text-anchor="start" fill="#000" stroke="#000" stroke-width="0.15" textLength="57.5" lengthAdjust="spacingAndGlyphs">APC anti-HER2</text>
<text transform="translate(429.5,232.4) rotate(-90)" font-size="8.4" text-anchor="start" fill="#000" stroke="#000" stroke-width="0.15" textLength="24.8" lengthAdjust="spacingAndGlyphs">control</text>
<rect x="409.70" y="237.40" width="22.90" height="12.00" fill="#fff" stroke="#333" stroke-width="1.0"/>
<line x1="421.50" y1="237.40" x2="421.50" y2="249.40" stroke="#333" stroke-width="1.0"/>
<rect x="412.80" y="239.80" width="6.20" height="6.40" fill="#e8a8b4" stroke="#e45a66" stroke-width="1.0"/>
<rect x="423.80" y="239.80" width="6.20" height="6.40" fill="#aadcec" stroke="#86d0e4" stroke-width="1.0"/>
<line x1="490.50" y1="23.20" x2="490.50" y2="99.30" stroke="#000" stroke-width="1.0"/>
<line x1="490.10" y1="99.50" x2="680.30" y2="99.50" stroke="#000" stroke-width="1.0"/>
<line x1="488.60" y1="98.50" x2="490.60" y2="98.50" stroke="#000" stroke-width="0.9"/>
<text x="484.7" y="100.8" font-size="6.8" text-anchor="end" font-weight="bold" fill="#000" stroke="#000" stroke-width="0.08">10</text>
<text x="484.8" y="98.2" font-size="4.6" text-anchor="start" fill="#000" stroke="#000" stroke-width="0.15">0</text>
<line x1="489.50" y1="94.27" x2="490.60" y2="94.27" stroke="#222" stroke-width="0.5"/>
<line x1="489.50" y1="91.80" x2="490.60" y2="91.80" stroke="#222" stroke-width="0.5"/>
<line x1="489.50" y1="90.04" x2="490.60" y2="90.04" stroke="#222" stroke-width="0.5"/>
<line x1="489.50" y1="88.68" x2="490.60" y2="88.68" stroke="#222" stroke-width="0.5"/>
<line x1="489.50" y1="87.57" x2="490.60" y2="87.57" stroke="#222" stroke-width="0.5"/>
<line x1="489.50" y1="86.63" x2="490.60" y2="86.63" stroke="#222" stroke-width="0.5"/>
<line x1="489.50" y1="85.81" x2="490.60" y2="85.81" stroke="#222" stroke-width="0.5"/>
<line x1="489.50" y1="85.09" x2="490.60" y2="85.09" stroke="#222" stroke-width="0.5"/>
<line x1="488.60" y1="84.50" x2="490.60" y2="84.50" stroke="#000" stroke-width="0.9"/>
<text x="484.7" y="86.8" font-size="6.8" text-anchor="end" font-weight="bold" fill="#000" stroke="#000" stroke-width="0.08">10</text>
<text x="484.8" y="84.2" font-size="4.6" text-anchor="start" fill="#000" stroke="#000" stroke-width="0.15">1</text>
<line x1="489.50" y1="80.22" x2="490.60" y2="80.22" stroke="#222" stroke-width="0.5"/>
<line x1="489.50" y1="77.75" x2="490.60" y2="77.75" stroke="#222" stroke-width="0.5"/>
<line x1="489.50" y1="75.99" x2="490.60" y2="75.99" stroke="#222" stroke-width="0.5"/>
<line x1="489.50" y1="74.63" x2="490.60" y2="74.63" stroke="#222" stroke-width="0.5"/>
<line x1="489.50" y1="73.52" x2="490.60" y2="73.52" stroke="#222" stroke-width="0.5"/>
<line x1="489.50" y1="72.58" x2="490.60" y2="72.58" stroke="#222" stroke-width="0.5"/>
<line x1="489.50" y1="71.76" x2="490.60" y2="71.76" stroke="#222" stroke-width="0.5"/>
<line x1="489.50" y1="71.04" x2="490.60" y2="71.04" stroke="#222" stroke-width="0.5"/>
<line x1="488.60" y1="70.50" x2="490.60" y2="70.50" stroke="#000" stroke-width="0.9"/>
<text x="484.7" y="72.7" font-size="6.8" text-anchor="end" font-weight="bold" fill="#000" stroke="#000" stroke-width="0.08">10</text>
<text x="484.8" y="70.1" font-size="4.6" text-anchor="start" fill="#000" stroke="#000" stroke-width="0.15">2</text>
<line x1="489.50" y1="66.17" x2="490.60" y2="66.17" stroke="#222" stroke-width="0.5"/>
<line x1="489.50" y1="63.70" x2="490.60" y2="63.70" stroke="#222" stroke-width="0.5"/>
<line x1="489.50" y1="61.94" x2="490.60" y2="61.94" stroke="#222" stroke-width="0.5"/>
<line x1="489.50" y1="60.58" x2="490.60" y2="60.58" stroke="#222" stroke-width="0.5"/>
<line x1="489.50" y1="59.47" x2="490.60" y2="59.47" stroke="#222" stroke-width="0.5"/>
<line x1="489.50" y1="58.53" x2="490.60" y2="58.53" stroke="#222" stroke-width="0.5"/>
<line x1="489.50" y1="57.71" x2="490.60" y2="57.71" stroke="#222" stroke-width="0.5"/>
<line x1="489.50" y1="56.99" x2="490.60" y2="56.99" stroke="#222" stroke-width="0.5"/>
<line x1="488.60" y1="56.50" x2="490.60" y2="56.50" stroke="#000" stroke-width="0.9"/>
<text x="484.7" y="58.6" font-size="6.8" text-anchor="end" font-weight="bold" fill="#000" stroke="#000" stroke-width="0.08">10</text>
<text x="484.8" y="56.0" font-size="4.6" text-anchor="start" fill="#000" stroke="#000" stroke-width="0.15">3</text>
<line x1="489.50" y1="52.12" x2="490.60" y2="52.12" stroke="#222" stroke-width="0.5"/>
<line x1="489.50" y1="49.65" x2="490.60" y2="49.65" stroke="#222" stroke-width="0.5"/>
<line x1="489.50" y1="47.89" x2="490.60" y2="47.89" stroke="#222" stroke-width="0.5"/>
<line x1="489.50" y1="46.53" x2="490.60" y2="46.53" stroke="#222" stroke-width="0.5"/>
<line x1="489.50" y1="45.42" x2="490.60" y2="45.42" stroke="#222" stroke-width="0.5"/>
<line x1="489.50" y1="44.48" x2="490.60" y2="44.48" stroke="#222" stroke-width="0.5"/>
<line x1="489.50" y1="43.66" x2="490.60" y2="43.66" stroke="#222" stroke-width="0.5"/>
<line x1="489.50" y1="42.94" x2="490.60" y2="42.94" stroke="#222" stroke-width="0.5"/>
<line x1="488.60" y1="42.50" x2="490.60" y2="42.50" stroke="#000" stroke-width="0.9"/>
<text x="484.7" y="44.6" font-size="6.8" text-anchor="end" font-weight="bold" fill="#000" stroke="#000" stroke-width="0.08">10</text>
<text x="484.8" y="42.0" font-size="4.6" text-anchor="start" fill="#000" stroke="#000" stroke-width="0.15">4</text>
<line x1="489.50" y1="38.07" x2="490.60" y2="38.07" stroke="#222" stroke-width="0.5"/>
<line x1="489.50" y1="35.60" x2="490.60" y2="35.60" stroke="#222" stroke-width="0.5"/>
<line x1="489.50" y1="33.84" x2="490.60" y2="33.84" stroke="#222" stroke-width="0.5"/>
<line x1="489.50" y1="32.48" x2="490.60" y2="32.48" stroke="#222" stroke-width="0.5"/>
<line x1="489.50" y1="31.37" x2="490.60" y2="31.37" stroke="#222" stroke-width="0.5"/>
<line x1="489.50" y1="30.43" x2="490.60" y2="30.43" stroke="#222" stroke-width="0.5"/>
<line x1="489.50" y1="29.61" x2="490.60" y2="29.61" stroke="#222" stroke-width="0.5"/>
<line x1="489.50" y1="28.89" x2="490.60" y2="28.89" stroke="#222" stroke-width="0.5"/>
<line x1="488.60" y1="28.50" x2="490.60" y2="28.50" stroke="#000" stroke-width="0.9"/>
<text x="484.7" y="30.6" font-size="6.8" text-anchor="end" font-weight="bold" fill="#000" stroke="#000" stroke-width="0.08">10</text>
<text x="484.8" y="27.9" font-size="4.6" text-anchor="start" fill="#000" stroke="#000" stroke-width="0.15">5</text>
<line x1="489.50" y1="24.02" x2="490.60" y2="24.02" stroke="#222" stroke-width="0.5"/>
<rect x="493.75" y="30.75" width="7.70" height="68.55" fill="#3f4ba6" stroke="#111" stroke-width="1.1"/>
<line x1="497.50" y1="99.30" x2="497.50" y2="101.30" stroke="#000" stroke-width="0.8"/>
<text transform="translate(500.1,108.2) rotate(-45)" font-size="7.3" text-anchor="end" font-weight="bold" stroke="#000" stroke-width="0.08">MCF7</text>
<rect x="507.27" y="32.75" width="7.70" height="66.55" fill="#3f4ba6" stroke="#111" stroke-width="1.1"/>
<line x1="511.50" y1="99.30" x2="511.50" y2="101.30" stroke="#000" stroke-width="0.8"/>
<text transform="translate(513.6,108.2) rotate(-45)" font-size="7.3" text-anchor="end" font-weight="bold" stroke="#000" stroke-width="0.08">MDA-MB-453</text>
<rect x="520.79" y="33.45" width="7.70" height="65.85" fill="#3f4ba6" stroke="#111" stroke-width="1.1"/>
<line x1="524.50" y1="99.30" x2="524.50" y2="101.30" stroke="#000" stroke-width="0.8"/>
<text transform="translate(527.1,108.2) rotate(-45)" font-size="7.3" text-anchor="end" font-weight="bold" stroke="#000" stroke-width="0.08">BT-474</text>
<rect x="534.31" y="32.45" width="7.70" height="66.85" fill="#45a86e" stroke="#111" stroke-width="1.1"/>
<line x1="538.50" y1="99.30" x2="538.50" y2="101.30" stroke="#000" stroke-width="0.8"/>
<text transform="translate(540.7,108.2) rotate(-45)" font-size="7.3" text-anchor="end" font-weight="bold" stroke="#000" stroke-width="0.08">BT-20</text>
<rect x="547.83" y="33.35" width="7.70" height="65.95" fill="#45a86e" stroke="#111" stroke-width="1.1"/>
<line x1="551.50" y1="99.30" x2="551.50" y2="101.30" stroke="#000" stroke-width="0.8"/>
<text transform="translate(554.2,108.2) rotate(-45)" font-size="7.3" text-anchor="end" font-weight="bold" stroke="#000" stroke-width="0.08">DU4475</text>
<rect x="561.35" y="33.75" width="7.70" height="65.55" fill="#45a86e" stroke="#111" stroke-width="1.1"/>
<line x1="565.50" y1="99.30" x2="565.50" y2="101.30" stroke="#000" stroke-width="0.8"/>
<text transform="translate(567.7,108.2) rotate(-45)" font-size="7.3" text-anchor="end" font-weight="bold" stroke="#000" stroke-width="0.08">HCC70</text>
<rect x="574.87" y="32.35" width="7.70" height="66.95" fill="#45a86e" stroke="#111" stroke-width="1.1"/>
<line x1="578.50" y1="99.30" x2="578.50" y2="101.30" stroke="#000" stroke-width="0.8"/>
<text transform="translate(581.2,108.2) rotate(-45)" font-size="7.3" text-anchor="end" font-weight="bold" stroke="#000" stroke-width="0.08">HCC1937</text>
<rect x="588.39" y="33.95" width="7.70" height="65.35" fill="#45a86e" stroke="#111" stroke-width="1.1"/>
<line x1="592.50" y1="99.30" x2="592.50" y2="101.30" stroke="#000" stroke-width="0.8"/>
<text transform="translate(594.7,108.2) rotate(-45)" font-size="7.3" text-anchor="end" font-weight="bold" stroke="#000" stroke-width="0.08">HCC1954</text>
<rect x="601.91" y="30.15" width="7.70" height="69.15" fill="#45a86e" stroke="#111" stroke-width="1.1"/>
<line x1="605.50" y1="99.30" x2="605.50" y2="101.30" stroke="#000" stroke-width="0.8"/>
<text transform="translate(608.3,108.2) rotate(-45)" font-size="7.3" text-anchor="end" font-weight="bold" stroke="#000" stroke-width="0.08">SUM149</text>
<rect x="615.43" y="69.75" width="7.70" height="29.55" fill="#d12a70" stroke="#111" stroke-width="1.1"/>
<line x1="619.50" y1="99.30" x2="619.50" y2="101.30" stroke="#000" stroke-width="0.8"/>
<text transform="translate(621.8,108.2) rotate(-45)" font-size="7.3" text-anchor="end" font-weight="bold" stroke="#000" stroke-width="0.08">BT-549</text>
<rect x="628.95" y="71.85" width="7.70" height="27.45" fill="#d12a70" stroke="#111" stroke-width="1.1"/>
<line x1="632.50" y1="99.30" x2="632.50" y2="101.30" stroke="#000" stroke-width="0.8"/>
<text transform="translate(635.3,108.2) rotate(-45)" font-size="7.3" text-anchor="end" font-weight="bold" stroke="#000" stroke-width="0.08">Hs 578T</text>
<rect x="642.47" y="69.15" width="7.70" height="30.15" fill="#d12a70" stroke="#111" stroke-width="1.1"/>
<line x1="646.50" y1="99.30" x2="646.50" y2="101.30" stroke="#000" stroke-width="0.8"/>
<text transform="translate(648.8,108.2) rotate(-45)" font-size="7.3" text-anchor="end" font-weight="bold" stroke="#000" stroke-width="0.08">MDA-MB-157</text>
<rect x="655.99" y="56.25" width="7.70" height="43.05" fill="#d12a70" stroke="#111" stroke-width="1.1"/>
<line x1="659.50" y1="99.30" x2="659.50" y2="101.30" stroke="#000" stroke-width="0.8"/>
<text transform="translate(662.3,108.2) rotate(-45)" font-size="7.3" text-anchor="end" font-weight="bold" stroke="#000" stroke-width="0.08">MDA-MB-231</text>
<rect x="669.51" y="78.25" width="7.70" height="21.05" fill="url(#dots)" stroke="#111" stroke-width="1.1"/>
<line x1="673.50" y1="99.30" x2="673.50" y2="101.30" stroke="#000" stroke-width="0.8"/>
<text transform="translate(675.9,108.2) rotate(-45)" font-size="7.3" text-anchor="end" font-weight="bold" stroke="#000" stroke-width="0.08">BMC (CD45-)</text>
<line x1="494.00" y1="23.50" x2="530.80" y2="23.50" stroke="#222" stroke-width="1.1"/>
<text x="512.2" y="17.3" font-size="8.4" text-anchor="middle" fill="#000" stroke="#000" stroke-width="0.15" textLength="28.9" lengthAdjust="spacingAndGlyphs">Luminal</text>
<line x1="535.10" y1="23.50" x2="609.90" y2="23.50" stroke="#222" stroke-width="1.1"/>
<text x="572.2" y="17.1" font-size="8.4" text-anchor="middle" fill="#000" stroke="#000" stroke-width="0.15" textLength="20.1" lengthAdjust="spacingAndGlyphs">Basal</text>
<line x1="616.20" y1="23.50" x2="662.10" y2="23.50" stroke="#222" stroke-width="1.1"/>
<text x="640.1" y="17.1" font-size="8.4" text-anchor="middle" fill="#000" stroke="#000" stroke-width="0.15" textLength="44.5" lengthAdjust="spacingAndGlyphs">Claudin-low</text>
<text x="572.9" y="144.3" font-size="9.9" text-anchor="middle" font-weight="bold" fill="#000" stroke="#000" stroke-width="0.08" textLength="38.1" lengthAdjust="spacingAndGlyphs">Cell Line</text>
<text transform="translate(459.2,62.2) rotate(-90)" font-size="9.4" text-anchor="middle" font-weight="bold" fill="#000" stroke="#000" stroke-width="0.08" textLength="69.3" lengthAdjust="spacingAndGlyphs">Median EpCAM</text>
<text transform="translate(470.8,62.6) rotate(-90)" font-size="9.4" text-anchor="middle" font-weight="bold" fill="#000" stroke="#000" stroke-width="0.08" textLength="102.6" lengthAdjust="spacingAndGlyphs">Fluorescence Intensity</text>
<line x1="493.50" y1="179.60" x2="493.50" y2="208.20" stroke="#000" stroke-width="1.0"/>
<line x1="491.40" y1="208.50" x2="495.60" y2="208.50" stroke="#000" stroke-width="1.0"/>
<line x1="491.60" y1="179.50" x2="493.80" y2="179.50" stroke="#000" stroke-width="0.9"/>
<text x="490.0" y="182.9" font-size="6.9" text-anchor="end" font-weight="bold" fill="#000" stroke="#000" stroke-width="0.08" textLength="25.6" lengthAdjust="spacingAndGlyphs">150,000</text>
<line x1="491.60" y1="190.50" x2="493.80" y2="190.50" stroke="#000" stroke-width="0.9"/>
<text x="490.0" y="193.0" font-size="6.9" text-anchor="end" font-weight="bold" fill="#000" stroke="#000" stroke-width="0.08" textLength="25.6" lengthAdjust="spacingAndGlyphs">100,000</text>
<line x1="491.60" y1="200.50" x2="493.80" y2="200.50" stroke="#000" stroke-width="0.9"/>
<text x="490.0" y="203.0" font-size="6.9" text-anchor="end" font-weight="bold" fill="#000" stroke="#000" stroke-width="0.08" textLength="21.5" lengthAdjust="spacingAndGlyphs">50,000</text>
<line x1="493.50" y1="213.60" x2="493.50" y2="256.35" stroke="#000" stroke-width="1.0"/>
<line x1="491.40" y1="213.50" x2="495.60" y2="213.50" stroke="#000" stroke-width="1.0"/>
<line x1="491.60" y1="256.50" x2="493.80" y2="256.50" stroke="#000" stroke-width="0.9"/>
<text x="490.0" y="259.2" font-size="6.9" text-anchor="end" font-weight="bold" fill="#000" stroke="#000" stroke-width="0.08">0</text>
<line x1="491.60" y1="247.50" x2="493.80" y2="247.50" stroke="#000" stroke-width="0.9"/>
<text x="490.0" y="250.8" font-size="6.9" text-anchor="end" font-weight="bold" fill="#000" stroke="#000" stroke-width="0.08" textLength="18.3" lengthAdjust="spacingAndGlyphs">1,000</text>
<line x1="491.60" y1="239.50" x2="493.80" y2="239.50" stroke="#000" stroke-width="0.9"/>
<text x="490.0" y="242.3" font-size="6.9" text-anchor="end" font-weight="bold" fill="#000" stroke="#000" stroke-width="0.08" textLength="18.3" lengthAdjust="spacingAndGlyphs">2,000</text>
<line x1="491.60" y1="230.50" x2="493.80" y2="230.50" stroke="#000" stroke-width="0.9"/>
<text x="490.0" y="233.8" font-size="6.9" text-anchor="end" font-weight="bold" fill="#000" stroke="#000" stroke-width="0.08" textLength="18.3" lengthAdjust="spacingAndGlyphs">3,000</text>
<line x1="491.60" y1="222.50" x2="493.80" y2="222.50" stroke="#000" stroke-width="0.9"/>
<text x="490.0" y="225.3" font-size="6.9" text-anchor="end" font-weight="bold" fill="#000" stroke="#000" stroke-width="0.08" textLength="18.3" lengthAdjust="spacingAndGlyphs">4,000</text>
<line x1="491.60" y1="213.50" x2="493.80" y2="213.50" stroke="#000" stroke-width="0.9"/>
<text x="490.0" y="216.9" font-size="6.9" text-anchor="end" font-weight="bold" fill="#000" stroke="#000" stroke-width="0.08" textLength="18.3" lengthAdjust="spacingAndGlyphs">5,000</text>
<line x1="493.30" y1="256.50" x2="683.50" y2="256.50" stroke="#000" stroke-width="1.0"/>
<rect x="496.65" y="236.65" width="7.70" height="19.70" fill="#3f4ba6" stroke="#111" stroke-width="1.1"/>
<line x1="500.50" y1="256.35" x2="500.50" y2="258.35" stroke="#000" stroke-width="0.8"/>
<text transform="translate(503.0,265.2) rotate(-45)" font-size="7.3" text-anchor="end" font-weight="bold" stroke="#000" stroke-width="0.08">MCF7</text>
<rect x="510.15" y="205.25" width="7.70" height="2.40" fill="url(#hb)" stroke="#111" stroke-width="1.1"/>
<rect x="510.15" y="214.55" width="7.70" height="41.80" fill="url(#hb)" stroke="#111" stroke-width="1.1"/>
<line x1="514.50" y1="256.35" x2="514.50" y2="258.35" stroke="#000" stroke-width="0.8"/>
<text transform="translate(516.5,265.2) rotate(-45)" font-size="7.3" text-anchor="end" font-weight="bold" stroke="#000" stroke-width="0.08">MDA-MB-453</text>
<rect x="523.65" y="182.55" width="7.70" height="25.10" fill="url(#hb)" stroke="#111" stroke-width="1.1"/>
<rect x="523.65" y="214.55" width="7.70" height="41.80" fill="url(#hb)" stroke="#111" stroke-width="1.1"/>
<line x1="527.50" y1="256.35" x2="527.50" y2="258.35" stroke="#000" stroke-width="0.8"/>
<text transform="translate(530.0,265.2) rotate(-45)" font-size="7.3" text-anchor="end" font-weight="bold" stroke="#000" stroke-width="0.08">BT-474</text>
<rect x="537.15" y="226.95" width="7.70" height="29.40" fill="#45a86e" stroke="#111" stroke-width="1.1"/>
<line x1="541.50" y1="256.35" x2="541.50" y2="258.35" stroke="#000" stroke-width="0.8"/>
<text transform="translate(543.5,265.2) rotate(-45)" font-size="7.3" text-anchor="end" font-weight="bold" stroke="#000" stroke-width="0.08">BT-20</text>
<line x1="554.50" y1="256.35" x2="554.50" y2="258.35" stroke="#000" stroke-width="0.8"/>
<text transform="translate(557.0,265.2) rotate(-45)" font-size="7.3" text-anchor="end" font-weight="bold" stroke="#000" stroke-width="0.08">DU4475</text>
<rect x="564.15" y="219.35" width="7.70" height="37.00" fill="#45a86e" stroke="#111" stroke-width="1.1"/>
<line x1="568.50" y1="256.35" x2="568.50" y2="258.35" stroke="#000" stroke-width="0.8"/>
<text transform="translate(570.5,265.2) rotate(-45)" font-size="7.3" text-anchor="end" font-weight="bold" stroke="#000" stroke-width="0.08">HCC70</text>
<rect x="577.65" y="232.05" width="7.70" height="24.30" fill="#45a86e" stroke="#111" stroke-width="1.1"/>
<line x1="581.50" y1="256.35" x2="581.50" y2="258.35" stroke="#000" stroke-width="0.8"/>
<text transform="translate(584.0,265.2) rotate(-45)" font-size="7.3" text-anchor="end" font-weight="bold" stroke="#000" stroke-width="0.08">HCC1937</text>
<rect x="591.15" y="183.65" width="7.70" height="24.00" fill="url(#hg)" stroke="#111" stroke-width="1.1"/>
<rect x="591.15" y="214.55" width="7.70" height="41.80" fill="url(#hg)" stroke="#111" stroke-width="1.1"/>
<line x1="595.50" y1="256.35" x2="595.50" y2="258.35" stroke="#000" stroke-width="0.8"/>
<text transform="translate(597.5,265.2) rotate(-45)" font-size="7.3" text-anchor="end" font-weight="bold" stroke="#000" stroke-width="0.08">HCC1954</text>
<rect x="604.65" y="248.95" width="7.70" height="7.40" fill="#45a86e" stroke="#111" stroke-width="1.1"/>
<line x1="608.50" y1="256.35" x2="608.50" y2="258.35" stroke="#000" stroke-width="0.8"/>
<text transform="translate(611.0,265.2) rotate(-45)" font-size="7.3" text-anchor="end" font-weight="bold" stroke="#000" stroke-width="0.08">SUM149</text>
<rect x="618.15" y="246.85" width="7.70" height="9.50" fill="#d12a70" stroke="#111" stroke-width="1.1"/>
<line x1="622.50" y1="256.35" x2="622.50" y2="258.35" stroke="#000" stroke-width="0.8"/>
<text transform="translate(624.5,265.2) rotate(-45)" font-size="7.3" text-anchor="end" font-weight="bold" stroke="#000" stroke-width="0.08">BT-549</text>
<rect x="631.65" y="243.25" width="7.70" height="13.10" fill="#d12a70" stroke="#111" stroke-width="1.1"/>
<line x1="635.50" y1="256.35" x2="635.50" y2="258.35" stroke="#000" stroke-width="0.8"/>
<text transform="translate(638.0,265.2) rotate(-45)" font-size="7.3" text-anchor="end" font-weight="bold" stroke="#000" stroke-width="0.08">Hs 578T</text>
<rect x="645.15" y="238.95" width="7.70" height="17.40" fill="#d12a70" stroke="#111" stroke-width="1.1"/>
<line x1="649.50" y1="256.35" x2="649.50" y2="258.35" stroke="#000" stroke-width="0.8"/>
<text transform="translate(651.5,265.2) rotate(-45)" font-size="7.3" text-anchor="end" font-weight="bold" stroke="#000" stroke-width="0.08">MDA-MB-157</text>
<rect x="658.65" y="244.05" width="7.70" height="12.30" fill="#d12a70" stroke="#111" stroke-width="1.1"/>
<line x1="662.50" y1="256.35" x2="662.50" y2="258.35" stroke="#000" stroke-width="0.8"/>
<text transform="translate(665.0,265.2) rotate(-45)" font-size="7.3" text-anchor="end" font-weight="bold" stroke="#000" stroke-width="0.08">MDA-MB-231</text>
<line x1="676.50" y1="256.35" x2="676.50" y2="258.35" stroke="#000" stroke-width="0.8"/>
<text transform="translate(678.5,265.2) rotate(-45)" font-size="7.3" text-anchor="end" font-weight="bold" stroke="#000" stroke-width="0.08">BMC (CD45-)</text>
<line x1="496.00" y1="169.50" x2="533.40" y2="169.50" stroke="#222" stroke-width="1.1"/>
<text x="514.4" y="163.6" font-size="8.4" text-anchor="middle" fill="#000" stroke="#000" stroke-width="0.15" textLength="29.2" lengthAdjust="spacingAndGlyphs">Luminal</text>
<line x1="537.20" y1="169.50" x2="612.40" y2="169.50" stroke="#222" stroke-width="1.1"/>
<text x="573.9" y="163.5" font-size="8.4" text-anchor="middle" fill="#000" stroke="#000" stroke-width="0.15" textLength="21.2" lengthAdjust="spacingAndGlyphs">Basal</text>
<line x1="617.30" y1="169.50" x2="663.20" y2="169.50" stroke="#222" stroke-width="1.1"/>
<text x="639.2" y="163.5" font-size="8.4" text-anchor="middle" fill="#000" stroke="#000" stroke-width="0.15" textLength="43.8" lengthAdjust="spacingAndGlyphs">Claudin-low</text>
<text x="573.9" y="301.4" font-size="9.9" text-anchor="middle" font-weight="bold" fill="#000" stroke="#000" stroke-width="0.08" textLength="39.3" lengthAdjust="spacingAndGlyphs">Cell Line</text>
<text transform="translate(449.0,212.9) rotate(-90)" font-size="9.4" text-anchor="middle" font-weight="bold" fill="#000" stroke="#000" stroke-width="0.08" textLength="59.8" lengthAdjust="spacingAndGlyphs">Median HER2</text>
<text transform="translate(459.3,212.7) rotate(-90)" font-size="9.4" text-anchor="middle" font-weight="bold" fill="#000" stroke="#000" stroke-width="0.08" textLength="101.5" lengthAdjust="spacingAndGlyphs">Fluorescence Intensity</text>
<line x1="47.50" y1="305.10" x2="47.50" y2="381.30" stroke="#000" stroke-width="1.0"/>
<line x1="46.90" y1="381.50" x2="226.70" y2="381.50" stroke="#000" stroke-width="1.0"/>
<line x1="45.10" y1="381.50" x2="47.40" y2="381.50" stroke="#000" stroke-width="0.9"/>
<text x="44.2" y="383.7" font-size="6.8" text-anchor="end" font-weight="bold" fill="#000" stroke="#000" stroke-width="0.08">0</text>
<line x1="45.10" y1="345.50" x2="47.40" y2="345.50" stroke="#000" stroke-width="0.9"/>
<text x="44.2" y="347.5" font-size="6.8" text-anchor="end" font-weight="bold" fill="#000" stroke="#000" stroke-width="0.08" textLength="7.5" lengthAdjust="spacingAndGlyphs">50</text>
<line x1="45.10" y1="308.50" x2="47.40" y2="308.50" stroke="#000" stroke-width="0.9"/>
<text x="44.2" y="311.2" font-size="6.8" text-anchor="end" font-weight="bold" fill="#000" stroke="#000" stroke-width="0.08" textLength="11.3" lengthAdjust="spacingAndGlyphs">100</text>
<rect x="50.50" y="311.60" width="7.00" height="3.10" fill="#fff" stroke="#000" stroke-width="1.0"/>
<rect x="50.50" y="314.70" width="7.00" height="24.90" fill="#d4d4d4" stroke="#000" stroke-width="1.0"/>
<rect x="50.50" y="339.60" width="7.00" height="42.20" fill="#000" stroke="#000" stroke-width="1.0"/>
<line x1="54.50" y1="381.30" x2="54.50" y2="383.30" stroke="#000" stroke-width="0.8"/>
<text transform="translate(56.4,390.7) rotate(-45)" font-size="7.3" text-anchor="end" font-weight="bold" stroke="#000" stroke-width="0.08">MCF7</text>
<rect x="63.50" y="309.30" width="7.00" height="72.50" fill="#000" stroke="#000" stroke-width="1.0"/>
<line x1="67.50" y1="381.30" x2="67.50" y2="383.30" stroke="#000" stroke-width="0.8"/>
<text transform="translate(69.4,390.7) rotate(-45)" font-size="7.3" text-anchor="end" font-weight="bold" stroke="#000" stroke-width="0.08">MDA-MB-453</text>
<rect x="76.50" y="309.30" width="7.00" height="15.70" fill="#fff" stroke="#000" stroke-width="1.0"/>
<rect x="76.50" y="325.00" width="7.00" height="56.80" fill="#000" stroke="#000" stroke-width="1.0"/>
<line x1="80.50" y1="381.30" x2="80.50" y2="383.30" stroke="#000" stroke-width="0.8"/>
<text transform="translate(82.4,390.7) rotate(-45)" font-size="7.3" text-anchor="end" font-weight="bold" stroke="#000" stroke-width="0.08">SK-BR-3</text>
<rect x="88.50" y="309.30" width="7.00" height="13.60" fill="#fff" stroke="#000" stroke-width="1.0"/>
<rect x="88.50" y="322.90" width="7.00" height="58.90" fill="#000" stroke="#000" stroke-width="1.0"/>
<line x1="92.50" y1="381.30" x2="92.50" y2="383.30" stroke="#000" stroke-width="0.8"/>
<text transform="translate(94.4,390.7) rotate(-45)" font-size="7.3" text-anchor="end" font-weight="bold" stroke="#000" stroke-width="0.08">BT-474</text>
<rect x="101.50" y="309.40" width="7.00" height="6.20" fill="#fff" stroke="#000" stroke-width="1.0"/>
<rect x="101.50" y="315.60" width="7.00" height="66.20" fill="#000" stroke="#000" stroke-width="1.0"/>
<line x1="105.50" y1="381.30" x2="105.50" y2="383.30" stroke="#000" stroke-width="0.8"/>
<text transform="translate(107.4,390.7) rotate(-45)" font-size="7.3" text-anchor="end" font-weight="bold" stroke="#000" stroke-width="0.08">BT-20</text>
<rect x="114.50" y="316.00" width="7.00" height="64.10" fill="#d4d4d4" stroke="#000" stroke-width="1.0"/>
<rect x="114.50" y="380.10" width="7.00" height="1.70" fill="#000" stroke="#000" stroke-width="1.0"/>
<line x1="118.50" y1="381.30" x2="118.50" y2="383.30" stroke="#000" stroke-width="0.8"/>
<text transform="translate(120.4,390.7) rotate(-45)" font-size="7.3" text-anchor="end" font-weight="bold" stroke="#000" stroke-width="0.08">DU4475</text>
<rect x="127.50" y="309.40" width="7.00" height="13.20" fill="#fff" stroke="#000" stroke-width="1.0"/>
<rect x="127.50" y="322.60" width="7.00" height="3.90" fill="#d4d4d4" stroke="#000" stroke-width="1.0"/>
<rect x="127.50" y="326.50" width="7.00" height="55.30" fill="#000" stroke="#000" stroke-width="1.0"/>
<line x1="131.50" y1="381.30" x2="131.50" y2="383.30" stroke="#000" stroke-width="0.8"/>
<text transform="translate(133.4,390.7) rotate(-45)" font-size="7.3" text-anchor="end" font-weight="bold" stroke="#000" stroke-width="0.08">HCC70</text>
<rect x="140.50" y="309.40" width="7.00" height="6.00" fill="#fff" stroke="#000" stroke-width="1.0"/>
<rect x="140.50" y="315.40" width="7.00" height="66.40" fill="#000" stroke="#000" stroke-width="1.0"/>
<line x1="144.50" y1="381.30" x2="144.50" y2="383.30" stroke="#000" stroke-width="0.8"/>
<text transform="translate(146.4,390.7) rotate(-45)" font-size="7.3" text-anchor="end" font-weight="bold" stroke="#000" stroke-width="0.08">HCC1937</text>
<rect x="152.50" y="306.90" width="7.00" height="34.90" fill="#fff" stroke="#000" stroke-width="1.0"/>
<rect x="152.50" y="341.80" width="7.00" height="40.00" fill="#000" stroke="#000" stroke-width="1.0"/>
<line x1="156.50" y1="381.30" x2="156.50" y2="383.30" stroke="#000" stroke-width="0.8"/>
<text transform="translate(158.4,390.7) rotate(-45)" font-size="7.3" text-anchor="end" font-weight="bold" stroke="#000" stroke-width="0.08">HCC1954</text>
<rect x="165.50" y="311.80" width="7.00" height="1.30" fill="#fff" stroke="#000" stroke-width="1.0"/>
<rect x="165.50" y="313.10" width="7.00" height="35.20" fill="#d4d4d4" stroke="#000" stroke-width="1.0"/>
<rect x="165.50" y="348.30" width="7.00" height="33.50" fill="#000" stroke="#000" stroke-width="1.0"/>
<line x1="169.50" y1="381.30" x2="169.50" y2="383.30" stroke="#000" stroke-width="0.8"/>
<text transform="translate(171.4,390.7) rotate(-45)" font-size="7.3" text-anchor="end" font-weight="bold" stroke="#000" stroke-width="0.08">SUM149</text>
<rect x="178.50" y="320.60" width="7.00" height="60.50" fill="#fff" stroke="#000" stroke-width="1.0"/>
<rect x="178.50" y="381.10" width="7.00" height="0.70" fill="#000" stroke="#000" stroke-width="1.0"/>
<line x1="182.50" y1="381.30" x2="182.50" y2="383.30" stroke="#000" stroke-width="0.8"/>
<text transform="translate(184.4,390.7) rotate(-45)" font-size="7.3" text-anchor="end" font-weight="bold" stroke="#000" stroke-width="0.08">BT-549</text>
<rect x="191.50" y="311.20" width="7.00" height="70.60" fill="#fff" stroke="#000" stroke-width="1.0"/>
<line x1="195.50" y1="381.30" x2="195.50" y2="383.30" stroke="#000" stroke-width="0.8"/>
<text transform="translate(197.4,390.7) rotate(-45)" font-size="7.3" text-anchor="end" font-weight="bold" stroke="#000" stroke-width="0.08">Hs 578T</text>
<rect x="204.50" y="311.80" width="7.00" height="59.70" fill="#fff" stroke="#000" stroke-width="1.0"/>
<rect x="204.50" y="371.50" width="7.00" height="3.80" fill="#d4d4d4" stroke="#000" stroke-width="1.0"/>
<rect x="204.50" y="375.30" width="7.00" height="6.50" fill="#000" stroke="#000" stroke-width="1.0"/>
<line x1="208.50" y1="381.30" x2="208.50" y2="383.30" stroke="#000" stroke-width="0.8"/>
<text transform="translate(210.4,390.7) rotate(-45)" font-size="7.3" text-anchor="end" font-weight="bold" stroke="#000" stroke-width="0.08">MDA-MB-157</text>
<rect x="217.50" y="316.90" width="7.00" height="59.10" fill="#fff" stroke="#000" stroke-width="1.0"/>
<rect x="217.50" y="376.00" width="7.00" height="5.80" fill="#000" stroke="#000" stroke-width="1.0"/>
<line x1="221.50" y1="381.30" x2="221.50" y2="383.30" stroke="#000" stroke-width="0.8"/>
<text transform="translate(223.4,390.7) rotate(-45)" font-size="7.3" text-anchor="end" font-weight="bold" stroke="#000" stroke-width="0.08">MDA-MB-231</text>
<line x1="49.90" y1="296.50" x2="96.70" y2="296.50" stroke="#222" stroke-width="1.1"/>
<text x="72.4" y="292.5" font-size="8.4" text-anchor="middle" fill="#000" stroke="#000" stroke-width="0.15" textLength="29.3" lengthAdjust="spacingAndGlyphs">Luminal</text>
<line x1="101.40" y1="296.50" x2="171.60" y2="296.50" stroke="#222" stroke-width="1.1"/>
<text x="135.9" y="291.9" font-size="8.4" text-anchor="middle" fill="#000" stroke="#000" stroke-width="0.15" textLength="20.4" lengthAdjust="spacingAndGlyphs">Basal</text>
<line x1="177.30" y1="296.50" x2="223.10" y2="296.50" stroke="#222" stroke-width="1.1"/>
<text x="199.8" y="292.3" font-size="8.4" text-anchor="middle" fill="#000" stroke="#000" stroke-width="0.15" textLength="43.9" lengthAdjust="spacingAndGlyphs">Claudin-low</text>
<text x="125.3" y="426.5" font-size="9.9" text-anchor="middle" font-weight="bold" fill="#000" stroke="#000" stroke-width="0.08" textLength="38.5" lengthAdjust="spacingAndGlyphs">Cell Line</text>
<text transform="translate(26.6,343.9) rotate(-90)" font-size="9.4" text-anchor="middle" font-weight="bold" fill="#000" stroke="#000" stroke-width="0.08" textLength="98.7" lengthAdjust="spacingAndGlyphs">% of Expressing Cells</text>
<rect x="234.50" y="302.50" width="8.00" height="7.00" fill="#fff" stroke="#000" stroke-width="1.2"/>
<rect x="234.50" y="312.50" width="8.00" height="8.00" fill="#d4d4d4" stroke="#000" stroke-width="1.2"/>
<rect x="234.50" y="323.50" width="8.00" height="7.00" fill="#000" stroke="#000" stroke-width="1.2"/>
<text x="245.7" y="308.8" font-size="8.4" text-anchor="start" fill="#000" stroke="#000" stroke-width="0.15" textLength="86.1" lengthAdjust="spacingAndGlyphs">HER2+ only (APC; PE)</text>
<text x="245.7" y="318.9" font-size="8.4" text-anchor="start" fill="#000" stroke="#000" stroke-width="0.15" textLength="109.2" lengthAdjust="spacingAndGlyphs">EpCAM+ only (PerCP-Cy5.5)</text>
<text x="245.7" y="329.8" font-size="8.4" text-anchor="start" fill="#000" stroke="#000" stroke-width="0.15" textLength="79.4" lengthAdjust="spacingAndGlyphs">HER2+ and EpCAM+</text>
</svg></body></html>
